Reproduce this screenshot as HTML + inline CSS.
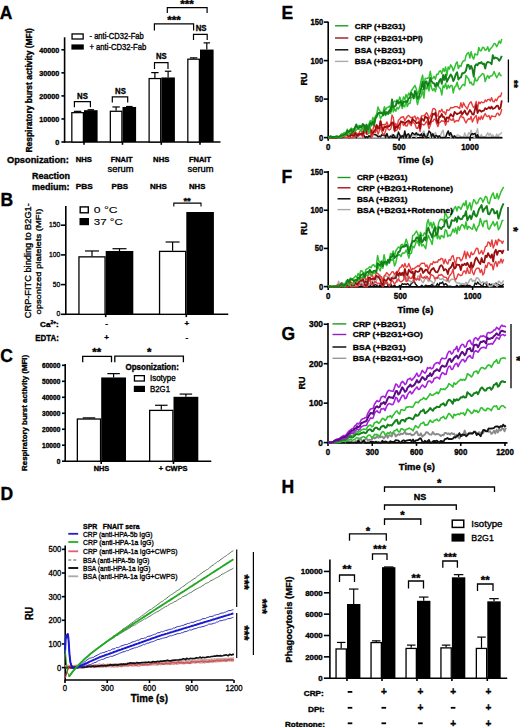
<!DOCTYPE html>
<html><head><meta charset="utf-8"><style>html,body{margin:0;padding:0;background:#fff;}svg{display:block;font-family:"Liberation Sans",sans-serif;}text{fill:#000;stroke:#000;stroke-linejoin:round}text.b{font-weight:700;stroke-width:.35px}text.r{font-weight:400;stroke-width:.34px}</style></head><body>
<svg width="520" height="727" viewBox="0 0 520 727">
<rect width="520" height="727" fill="#fff"/>
<text class="b" x="-0.30" y="18.70" font-size="17.5">A</text>
<line x1="64.60" y1="37.30" x2="64.60" y2="142.70" stroke="#000" stroke-width="1.6" />
<line x1="63.90" y1="142.00" x2="220.50" y2="142.00" stroke="#000" stroke-width="1.6" />
<line x1="61.40" y1="142.00" x2="64.60" y2="142.00" stroke="#000" stroke-width="1.6" />
<text class="b" x="55.20" y="145.26" font-size="8.0" textLength="4.00" lengthAdjust="spacingAndGlyphs">0</text>
<line x1="61.40" y1="118.95" x2="64.60" y2="118.95" stroke="#000" stroke-width="1.6" />
<text class="b" x="39.20" y="122.21" font-size="8.0" textLength="20.00" lengthAdjust="spacingAndGlyphs">10000</text>
<line x1="61.40" y1="95.90" x2="64.60" y2="95.90" stroke="#000" stroke-width="1.6" />
<text class="b" x="39.20" y="99.16" font-size="8.0" textLength="20.00" lengthAdjust="spacingAndGlyphs">20000</text>
<line x1="61.40" y1="72.85" x2="64.60" y2="72.85" stroke="#000" stroke-width="1.6" />
<text class="b" x="39.20" y="76.11" font-size="8.0" textLength="20.00" lengthAdjust="spacingAndGlyphs">30000</text>
<line x1="61.40" y1="49.80" x2="64.60" y2="49.80" stroke="#000" stroke-width="1.6" />
<text class="b" x="39.20" y="53.06" font-size="8.0" textLength="20.00" lengthAdjust="spacingAndGlyphs">40000</text>
<line x1="84.00" y1="142.00" x2="84.00" y2="144.80" stroke="#000" stroke-width="1.6" />
<line x1="122.50" y1="142.00" x2="122.50" y2="144.80" stroke="#000" stroke-width="1.6" />
<line x1="161.30" y1="142.00" x2="161.30" y2="144.80" stroke="#000" stroke-width="1.6" />
<line x1="200.00" y1="142.00" x2="200.00" y2="144.80" stroke="#000" stroke-width="1.6" />
<rect x="71.83" y="112.66" width="11.55" height="29.34" fill="#fff" stroke="#000" stroke-width="1.25"/>
<rect x="84.00" y="110.19" width="13.60" height="31.81" fill="#000"/>
<line x1="77.60" y1="111.34" x2="77.60" y2="112.03" stroke="#000" stroke-width="1.2" />
<line x1="73.90" y1="111.34" x2="81.30" y2="111.34" stroke="#000" stroke-width="1.2" />
<line x1="90.80" y1="109.73" x2="90.80" y2="110.19" stroke="#000" stroke-width="1.2" />
<line x1="87.55" y1="109.73" x2="94.05" y2="109.73" stroke="#000" stroke-width="1.2" />
<rect x="110.33" y="111.28" width="11.55" height="30.72" fill="#fff" stroke="#000" stroke-width="1.25"/>
<rect x="122.50" y="106.96" width="13.60" height="35.04" fill="#000"/>
<line x1="116.10" y1="106.96" x2="116.10" y2="110.65" stroke="#000" stroke-width="1.2" />
<line x1="112.40" y1="106.96" x2="119.80" y2="106.96" stroke="#000" stroke-width="1.2" />
<line x1="129.30" y1="106.50" x2="129.30" y2="106.96" stroke="#000" stroke-width="1.2" />
<line x1="126.05" y1="106.50" x2="132.55" y2="106.50" stroke="#000" stroke-width="1.2" />
<rect x="149.12" y="78.55" width="11.55" height="63.45" fill="#fff" stroke="#000" stroke-width="1.25"/>
<rect x="161.30" y="77.46" width="13.60" height="64.54" fill="#000"/>
<line x1="154.90" y1="72.62" x2="154.90" y2="77.92" stroke="#000" stroke-width="1.2" />
<line x1="151.20" y1="72.62" x2="158.60" y2="72.62" stroke="#000" stroke-width="1.2" />
<line x1="168.10" y1="71.24" x2="168.10" y2="77.46" stroke="#000" stroke-width="1.2" />
<line x1="164.85" y1="71.24" x2="171.35" y2="71.24" stroke="#000" stroke-width="1.2" />
<rect x="187.82" y="59.18" width="11.55" height="82.82" fill="#fff" stroke="#000" stroke-width="1.25"/>
<rect x="200.00" y="49.57" width="13.60" height="92.43" fill="#000"/>
<line x1="193.60" y1="57.87" x2="193.60" y2="58.56" stroke="#000" stroke-width="1.2" />
<line x1="189.90" y1="57.87" x2="197.30" y2="57.87" stroke="#000" stroke-width="1.2" />
<line x1="206.80" y1="42.88" x2="206.80" y2="49.57" stroke="#000" stroke-width="1.2" />
<line x1="203.55" y1="42.88" x2="210.05" y2="42.88" stroke="#000" stroke-width="1.2" />
<polyline points="74.40,107.30 74.40,101.60 90.40,101.60 90.40,107.30" fill="none" stroke="#000" stroke-width="1.2"/>
<text class="b" x="77.10" y="98.70" font-size="8.8" textLength="10.80" lengthAdjust="spacingAndGlyphs">NS</text>
<polyline points="112.30,102.50 112.30,96.80 127.70,96.80 127.70,102.50" fill="none" stroke="#000" stroke-width="1.2"/>
<text class="b" x="115.10" y="93.70" font-size="8.8" textLength="10.80" lengthAdjust="spacingAndGlyphs">NS</text>
<polyline points="154.50,69.00 154.50,62.60 168.00,62.60 168.00,69.00" fill="none" stroke="#000" stroke-width="1.2"/>
<text class="b" x="155.90" y="58.70" font-size="8.8" textLength="10.70" lengthAdjust="spacingAndGlyphs">NS</text>
<polyline points="193.50,39.90 193.50,34.40 207.20,34.40 207.20,39.90" fill="none" stroke="#000" stroke-width="1.2"/>
<text class="b" x="195.65" y="31.10" font-size="8.8" textLength="10.90" lengthAdjust="spacingAndGlyphs">NS</text>
<polyline points="154.40,30.40 154.40,23.80 193.60,23.80 193.60,30.40" fill="none" stroke="#000" stroke-width="1.2"/>
<text class="b" x="174.05" y="23.92" font-size="11.6" text-anchor="middle">***</text>
<polyline points="167.30,13.00 167.30,7.60 207.10,7.60 207.10,13.00" fill="none" stroke="#000" stroke-width="1.2"/>
<text class="b" x="187.00" y="7.82" font-size="11.6" text-anchor="middle">***</text>
<rect x="72.05" y="33.95" width="11.10" height="5.05" fill="#fff" stroke="#000" stroke-width="1.3"/>
<rect x="71.40" y="44.40" width="12.40" height="5.20" fill="#000"/>
<text class="r" x="89.50" y="39.10" font-size="8.4" textLength="54.30" lengthAdjust="spacingAndGlyphs">- anti-CD32-Fab</text>
<text class="r" x="89.50" y="50.00" font-size="8.4" textLength="56.80" lengthAdjust="spacingAndGlyphs">+ anti-CD32-Fab</text>
<text class="b" x="32.20" y="152.60" font-size="8.3" textLength="124.50" lengthAdjust="spacingAndGlyphs" transform="rotate(-90 32.20 152.60)">Respiratory burst activity (MFI)</text>
<text class="b" x="7.00" y="163.10" font-size="9.3" textLength="61.80" lengthAdjust="spacingAndGlyphs">Opsonization:</text>
<text class="b" x="75.70" y="162.20" font-size="7.4" textLength="16.20" lengthAdjust="spacingAndGlyphs">NHS</text>
<text class="b" x="110.70" y="162.20" font-size="7.4" textLength="21.80" lengthAdjust="spacingAndGlyphs">FNAIT</text>
<text class="r" x="107.50" y="171.60" font-size="8.6" textLength="26.00" lengthAdjust="spacingAndGlyphs">serum</text>
<text class="b" x="153.10" y="162.20" font-size="7.4" textLength="16.20" lengthAdjust="spacingAndGlyphs">NHS</text>
<text class="b" x="189.00" y="162.20" font-size="7.4" textLength="22.00" lengthAdjust="spacingAndGlyphs">FNAIT</text>
<text class="r" x="187.50" y="171.60" font-size="8.6" textLength="26.00" lengthAdjust="spacingAndGlyphs">serum</text>
<text class="b" x="32.00" y="178.80" font-size="9.3" textLength="38.00" lengthAdjust="spacingAndGlyphs">Reaction</text>
<text class="b" x="32.00" y="189.50" font-size="9.3" textLength="37.50" lengthAdjust="spacingAndGlyphs">medium:</text>
<text class="b" x="75.70" y="189.00" font-size="7.6" textLength="17.00" lengthAdjust="spacingAndGlyphs">PBS</text>
<text class="b" x="111.55" y="189.00" font-size="7.6" textLength="16.50" lengthAdjust="spacingAndGlyphs">PBS</text>
<text class="b" x="150.10" y="189.00" font-size="7.4" textLength="16.80" lengthAdjust="spacingAndGlyphs">NHS</text>
<text class="b" x="189.00" y="189.00" font-size="7.4" textLength="16.40" lengthAdjust="spacingAndGlyphs">NHS</text>
<text class="b" x="0.40" y="206.20" font-size="17.5">B</text>
<line x1="65.80" y1="206.00" x2="65.80" y2="315.00" stroke="#000" stroke-width="1.6" />
<line x1="65.10" y1="314.30" x2="228.30" y2="314.30" stroke="#000" stroke-width="1.6" />
<line x1="60.80" y1="314.30" x2="65.80" y2="314.30" stroke="#000" stroke-width="1.6" />
<text class="r" x="56.47" y="316.32" font-size="7.6" textLength="3.73" lengthAdjust="spacingAndGlyphs">0</text>
<line x1="60.80" y1="284.60" x2="65.80" y2="284.60" stroke="#000" stroke-width="1.6" />
<text class="r" x="52.74" y="286.62" font-size="7.6" textLength="7.46" lengthAdjust="spacingAndGlyphs">50</text>
<line x1="60.80" y1="254.90" x2="65.80" y2="254.90" stroke="#000" stroke-width="1.6" />
<text class="r" x="49.01" y="256.92" font-size="7.6" textLength="11.19" lengthAdjust="spacingAndGlyphs">100</text>
<line x1="60.80" y1="225.20" x2="65.80" y2="225.20" stroke="#000" stroke-width="1.6" />
<text class="r" x="49.01" y="227.22" font-size="7.6" textLength="11.19" lengthAdjust="spacingAndGlyphs">150</text>
<line x1="105.70" y1="314.30" x2="105.70" y2="317.10" stroke="#000" stroke-width="1.6" />
<line x1="186.30" y1="314.30" x2="186.30" y2="317.10" stroke="#000" stroke-width="1.6" />
<rect x="78.95" y="256.86" width="26.10" height="57.44" fill="#fff" stroke="#000" stroke-width="1.3"/>
<rect x="105.70" y="250.98" width="27.60" height="63.32" fill="#000"/>
<line x1="92.00" y1="250.98" x2="92.00" y2="256.21" stroke="#000" stroke-width="1.2" />
<line x1="85.00" y1="250.98" x2="99.00" y2="250.98" stroke="#000" stroke-width="1.2" />
<line x1="119.50" y1="248.72" x2="119.50" y2="250.98" stroke="#000" stroke-width="1.2" />
<line x1="112.50" y1="248.72" x2="126.50" y2="248.72" stroke="#000" stroke-width="1.2" />
<rect x="159.55" y="251.39" width="26.10" height="62.91" fill="#fff" stroke="#000" stroke-width="1.3"/>
<rect x="186.30" y="212.01" width="27.60" height="102.29" fill="#000"/>
<line x1="172.60" y1="242.01" x2="172.60" y2="250.74" stroke="#000" stroke-width="1.2" />
<line x1="165.60" y1="242.01" x2="179.60" y2="242.01" stroke="#000" stroke-width="1.2" />
<polyline points="173.80,206.60 173.80,203.10 201.00,203.10 201.00,206.60" fill="none" stroke="#000" stroke-width="1.1"/>
<text class="b" x="187.10" y="203.54" font-size="9.5" text-anchor="middle">**</text>
<rect x="80.20" y="206.90" width="8.10" height="5.90" fill="#fff" stroke="#000" stroke-width="1.4"/>
<rect x="79.50" y="218.00" width="9.50" height="7.20" fill="#000"/>
<text class="r" x="93.80" y="212.60" font-size="9.6" textLength="23.80" lengthAdjust="spacingAndGlyphs" style="stroke-width:0.12px">0 °C</text>
<text class="r" x="93.80" y="224.60" font-size="9.6" textLength="29.00" lengthAdjust="spacingAndGlyphs" style="stroke-width:0.12px">37 °C</text>
<text class="r" x="30.60" y="318.20" font-size="8.8" textLength="115.00" lengthAdjust="spacingAndGlyphs" transform="rotate(-90 30.60 318.20)">CRP-FITC binding to B2G1-</text>
<text class="r" x="40.60" y="314.60" font-size="8.0" textLength="106.00" lengthAdjust="spacingAndGlyphs" transform="rotate(-90 40.60 314.60)">opsonized platelets (MFI)</text>
<text class="b" x="40.1" y="326.8" font-size="7.4" textLength="18.7" lengthAdjust="spacingAndGlyphs">Ca<tspan font-size="4.6" dy="-2.8">2+</tspan><tspan dy="2.8">:</tspan></text>
<text class="b" x="35.30" y="341.00" font-size="8.6" textLength="23.50" lengthAdjust="spacingAndGlyphs">EDTA:</text>
<text class="b" x="106.70" y="326.20" font-size="8" text-anchor="middle">-</text>
<text class="b" x="106.70" y="339.90" font-size="8" text-anchor="middle">+</text>
<text class="b" x="186.90" y="326.20" font-size="8" text-anchor="middle">+</text>
<text class="b" x="186.90" y="340.30" font-size="8" text-anchor="middle">-</text>
<text class="b" x="0.20" y="361.90" font-size="17.5">C</text>
<line x1="65.20" y1="364.00" x2="65.20" y2="461.90" stroke="#000" stroke-width="1.6" />
<line x1="64.50" y1="461.20" x2="211.30" y2="461.20" stroke="#000" stroke-width="1.6" />
<line x1="62.00" y1="461.20" x2="65.20" y2="461.20" stroke="#000" stroke-width="1.6" />
<text class="b" x="56.66" y="463.55" font-size="6.8" textLength="3.64" lengthAdjust="spacingAndGlyphs">0</text>
<line x1="62.00" y1="445.22" x2="65.20" y2="445.22" stroke="#000" stroke-width="1.6" />
<text class="b" x="42.10" y="447.57" font-size="6.8" textLength="18.20" lengthAdjust="spacingAndGlyphs">10000</text>
<line x1="62.00" y1="429.24" x2="65.20" y2="429.24" stroke="#000" stroke-width="1.6" />
<text class="b" x="42.10" y="431.59" font-size="6.8" textLength="18.20" lengthAdjust="spacingAndGlyphs">20000</text>
<line x1="62.00" y1="413.26" x2="65.20" y2="413.26" stroke="#000" stroke-width="1.6" />
<text class="b" x="42.10" y="415.61" font-size="6.8" textLength="18.20" lengthAdjust="spacingAndGlyphs">30000</text>
<line x1="62.00" y1="397.28" x2="65.20" y2="397.28" stroke="#000" stroke-width="1.6" />
<text class="b" x="42.10" y="399.63" font-size="6.8" textLength="18.20" lengthAdjust="spacingAndGlyphs">40000</text>
<line x1="62.00" y1="381.30" x2="65.20" y2="381.30" stroke="#000" stroke-width="1.6" />
<text class="b" x="42.10" y="383.65" font-size="6.8" textLength="18.20" lengthAdjust="spacingAndGlyphs">50000</text>
<line x1="62.00" y1="365.32" x2="65.20" y2="365.32" stroke="#000" stroke-width="1.6" />
<text class="b" x="42.10" y="367.67" font-size="6.8" textLength="18.20" lengthAdjust="spacingAndGlyphs">60000</text>
<line x1="101.20" y1="461.20" x2="101.20" y2="464.00" stroke="#000" stroke-width="1.6" />
<line x1="173.50" y1="461.20" x2="173.50" y2="464.00" stroke="#000" stroke-width="1.6" />
<rect x="77.35" y="419.02" width="23.20" height="42.18" fill="#fff" stroke="#000" stroke-width="1.3"/>
<rect x="101.20" y="377.46" width="24.80" height="83.74" fill="#000"/>
<line x1="89.00" y1="417.89" x2="89.00" y2="418.37" stroke="#000" stroke-width="1.2" />
<line x1="82.75" y1="417.89" x2="95.25" y2="417.89" stroke="#000" stroke-width="1.2" />
<line x1="113.60" y1="373.63" x2="113.60" y2="377.46" stroke="#000" stroke-width="1.2" />
<line x1="107.35" y1="373.63" x2="119.85" y2="373.63" stroke="#000" stroke-width="1.2" />
<rect x="149.65" y="410.39" width="23.20" height="50.81" fill="#fff" stroke="#000" stroke-width="1.3"/>
<rect x="173.50" y="396.80" width="24.80" height="64.40" fill="#000"/>
<line x1="161.30" y1="405.27" x2="161.30" y2="409.74" stroke="#000" stroke-width="1.2" />
<line x1="155.05" y1="405.27" x2="167.55" y2="405.27" stroke="#000" stroke-width="1.2" />
<line x1="185.90" y1="394.08" x2="185.90" y2="396.80" stroke="#000" stroke-width="1.2" />
<line x1="179.65" y1="394.08" x2="192.15" y2="394.08" stroke="#000" stroke-width="1.2" />
<polyline points="82.70,362.30 82.70,356.40 111.50,356.40 111.50,362.30" fill="none" stroke="#000" stroke-width="1.3"/>
<text class="b" x="96.70" y="356.21" font-size="11.4" text-anchor="middle">**</text>
<polyline points="114.80,362.30 114.80,356.20 183.40,356.20 183.40,362.30" fill="none" stroke="#000" stroke-width="1.3"/>
<text class="b" x="149.10" y="356.01" font-size="11.4" text-anchor="middle">*</text>
<text class="b" x="125.50" y="370.00" font-size="8.6" textLength="53.30" lengthAdjust="spacingAndGlyphs">Opsonization:</text>
<rect x="134.45" y="375.65" width="9.90" height="5.35" fill="#fff" stroke="#000" stroke-width="1.3"/>
<rect x="133.80" y="385.80" width="11.20" height="6.20" fill="#000"/>
<text class="r" x="150.00" y="381.20" font-size="8.2" textLength="25.60" lengthAdjust="spacingAndGlyphs">Isotype</text>
<text class="r" x="150.00" y="392.00" font-size="8.2" textLength="20.00" lengthAdjust="spacingAndGlyphs">B2G1</text>
<text class="b" x="27.20" y="470.90" font-size="8.0" textLength="116.10" lengthAdjust="spacingAndGlyphs" transform="rotate(-90 27.20 470.90)">Respiratory burst activity (MFI)</text>
<text class="b" x="93.75" y="470.60" font-size="6.8" textLength="15.50" lengthAdjust="spacingAndGlyphs">NHS</text>
<text class="b" x="158.80" y="471.30" font-size="6.8" textLength="28.80" lengthAdjust="spacingAndGlyphs">+ CWPS</text>
<text class="b" x="0.40" y="500.30" font-size="17.5">D</text>
<line x1="65.20" y1="545.50" x2="65.20" y2="680.40" stroke="#000" stroke-width="1.6" />
<line x1="64.50" y1="680.00" x2="233.60" y2="680.00" stroke="#000" stroke-width="1.6" />
<line x1="62.00" y1="667.60" x2="65.20" y2="667.60" stroke="#000" stroke-width="1.6" />
<text class="r" x="57.03" y="670.50" font-size="8.4" textLength="4.27" lengthAdjust="spacingAndGlyphs">0</text>
<line x1="62.00" y1="643.95" x2="65.20" y2="643.95" stroke="#000" stroke-width="1.6" />
<text class="r" x="48.49" y="646.85" font-size="8.4" textLength="12.81" lengthAdjust="spacingAndGlyphs">100</text>
<line x1="62.00" y1="620.30" x2="65.20" y2="620.30" stroke="#000" stroke-width="1.6" />
<text class="r" x="48.49" y="623.20" font-size="8.4" textLength="12.81" lengthAdjust="spacingAndGlyphs">200</text>
<line x1="62.00" y1="596.65" x2="65.20" y2="596.65" stroke="#000" stroke-width="1.6" />
<text class="r" x="48.49" y="599.55" font-size="8.4" textLength="12.81" lengthAdjust="spacingAndGlyphs">300</text>
<line x1="62.00" y1="573.00" x2="65.20" y2="573.00" stroke="#000" stroke-width="1.6" />
<text class="r" x="48.49" y="575.90" font-size="8.4" textLength="12.81" lengthAdjust="spacingAndGlyphs">400</text>
<line x1="62.00" y1="549.35" x2="65.20" y2="549.35" stroke="#000" stroke-width="1.6" />
<text class="r" x="48.49" y="552.25" font-size="8.4" textLength="12.81" lengthAdjust="spacingAndGlyphs">500</text>
<line x1="65.00" y1="680.00" x2="65.00" y2="683.00" stroke="#000" stroke-width="1.6" />
<text class="r" x="62.85" y="690.80" font-size="8.6" textLength="4.30" lengthAdjust="spacingAndGlyphs">0</text>
<line x1="107.25" y1="680.00" x2="107.25" y2="683.00" stroke="#000" stroke-width="1.6" />
<text class="r" x="100.80" y="690.80" font-size="8.6" textLength="12.90" lengthAdjust="spacingAndGlyphs">300</text>
<line x1="149.50" y1="680.00" x2="149.50" y2="683.00" stroke="#000" stroke-width="1.6" />
<text class="r" x="143.05" y="690.80" font-size="8.6" textLength="12.90" lengthAdjust="spacingAndGlyphs">600</text>
<line x1="191.75" y1="680.00" x2="191.75" y2="683.00" stroke="#000" stroke-width="1.6" />
<text class="r" x="185.30" y="690.80" font-size="8.6" textLength="12.90" lengthAdjust="spacingAndGlyphs">900</text>
<line x1="234.00" y1="680.00" x2="234.00" y2="683.00" stroke="#000" stroke-width="1.6" />
<text class="r" x="225.40" y="690.80" font-size="8.6" textLength="17.20" lengthAdjust="spacingAndGlyphs">1200</text>
<text class="b" x="130.80" y="701.80" font-size="10.2" textLength="37.20" lengthAdjust="spacingAndGlyphs">Time (s)</text>
<text class="b" x="33.50" y="620.10" font-size="10.0" textLength="13.30" lengthAdjust="spacingAndGlyphs" transform="rotate(-90 33.50 620.10)">RU</text>
<polyline points="65.0,666.9 66.1,666.9 67.3,666.9 68.4,666.9 69.5,666.9 70.6,666.9 71.8,666.9 72.9,666.9 74.0,666.9 75.1,666.8 76.3,666.7 77.4,666.7 78.5,666.6 79.6,666.5 80.8,666.5 81.9,666.4 83.0,666.4 84.2,666.3 85.3,666.2 86.4,666.2 87.5,666.1 88.7,666.0 89.8,666.0 90.9,665.9 92.0,665.8 93.2,665.8 94.3,665.7 95.4,665.7 96.5,665.6 97.7,665.5 98.8,665.5 99.9,665.4 101.1,665.3 102.2,665.3 103.3,665.2 104.4,665.2 105.6,665.1 106.7,665.0 107.8,665.0 108.9,664.9 110.1,664.8 111.2,664.8 112.3,664.7 113.4,664.7 114.6,664.6 115.7,664.5 116.8,664.5 118.0,664.4 119.1,664.3 120.2,664.3 121.3,664.2 122.5,664.1 123.6,664.1 124.7,664.0 125.8,664.0 127.0,663.9 128.1,663.8 129.2,663.8 130.3,663.7 131.5,663.6 132.6,663.6 133.7,663.5 134.9,663.5 136.0,663.4 137.1,663.3 138.2,663.3 139.4,663.2 140.5,663.1 141.6,663.1 142.7,663.0 143.9,662.9 145.0,662.9 146.1,662.8 147.2,662.8 148.4,662.7 149.5,662.6 150.6,662.6 151.8,662.5 152.9,662.4 154.0,662.4 155.1,662.3 156.3,662.3 157.4,662.2 158.5,662.1 159.6,662.1 160.8,662.0 161.9,661.9 163.0,661.9 164.1,661.8 165.3,661.8 166.4,661.7 167.5,661.6 168.7,661.6 169.8,661.5 170.9,661.4 172.0,661.4 173.2,661.3 174.3,661.2 175.4,661.2 176.5,661.1 177.7,661.1 178.8,661.0 179.9,660.9 181.0,660.9 182.2,660.8 183.3,660.7 184.4,660.7 185.6,660.6 186.7,660.6 187.8,660.5 188.9,660.4 190.1,660.4 191.2,660.3 192.3,660.2 193.4,660.2 194.6,660.1 195.7,660.0 196.8,660.0 197.9,659.9 199.1,659.9 200.2,659.8 201.3,659.7 202.5,659.7 203.6,659.6 204.7,659.5 205.8,659.5 207.0,659.4 208.1,659.4 209.2,659.3 210.3,659.2 211.5,659.2 212.6,659.1 213.7,659.0 214.8,659.0 216.0,658.9 217.1,658.8 218.2,658.8 219.4,658.7 220.5,658.7 221.6,658.6 222.7,658.5 223.9,658.5 225.0,658.4 226.1,658.3 227.2,658.3 228.4,658.2 229.5,658.2 230.6,658.1 231.7,658.0 232.9,658.0 234.0,657.9" fill="none" stroke="#a0a0a0" stroke-width="1.0" stroke-linejoin="round"/>
<polyline points="65.0,668.3 66.1,668.3 67.3,668.3 68.4,668.3 69.5,668.3 70.6,668.3 71.8,668.3 72.9,668.3 74.0,668.3 75.1,668.2 76.3,668.2 77.4,668.1 78.5,668.0 79.6,668.0 80.8,667.9 81.9,667.8 83.0,667.8 84.2,667.7 85.3,667.6 86.4,667.6 87.5,667.5 88.7,667.5 89.8,667.4 90.9,667.3 92.0,667.3 93.2,667.2 94.3,667.1 95.4,667.1 96.5,667.0 97.7,667.0 98.8,666.9 99.9,666.8 101.1,666.8 102.2,666.7 103.3,666.6 104.4,666.6 105.6,666.5 106.7,666.4 107.8,666.4 108.9,666.3 110.1,666.3 111.2,666.2 112.3,666.1 113.4,666.1 114.6,666.0 115.7,665.9 116.8,665.9 118.0,665.8 119.1,665.8 120.2,665.7 121.3,665.6 122.5,665.6 123.6,665.5 124.7,665.4 125.8,665.4 127.0,665.3 128.1,665.3 129.2,665.2 130.3,665.1 131.5,665.1 132.6,665.0 133.7,664.9 134.9,664.9 136.0,664.8 137.1,664.7 138.2,664.7 139.4,664.6 140.5,664.6 141.6,664.5 142.7,664.4 143.9,664.4 145.0,664.3 146.1,664.2 147.2,664.2 148.4,664.1 149.5,664.1 150.6,664.0 151.8,663.9 152.9,663.9 154.0,663.8 155.1,663.7 156.3,663.7 157.4,663.6 158.5,663.5 159.6,663.5 160.8,663.4 161.9,663.4 163.0,663.3 164.1,663.2 165.3,663.2 166.4,663.1 167.5,663.0 168.7,663.0 169.8,662.9 170.9,662.9 172.0,662.8 173.2,662.7 174.3,662.7 175.4,662.6 176.5,662.5 177.7,662.5 178.8,662.4 179.9,662.3 181.0,662.3 182.2,662.2 183.3,662.2 184.4,662.1 185.6,662.0 186.7,662.0 187.8,661.9 188.9,661.8 190.1,661.8 191.2,661.7 192.3,661.7 193.4,661.6 194.6,661.5 195.7,661.5 196.8,661.4 197.9,661.3 199.1,661.3 200.2,661.2 201.3,661.2 202.5,661.1 203.6,661.0 204.7,661.0 205.8,660.9 207.0,660.8 208.1,660.8 209.2,660.7 210.3,660.6 211.5,660.6 212.6,660.5 213.7,660.5 214.8,660.4 216.0,660.3 217.1,660.3 218.2,660.2 219.4,660.1 220.5,660.1 221.6,660.0 222.7,660.0 223.9,659.9 225.0,659.8 226.1,659.8 227.2,659.7 228.4,659.6 229.5,659.6 230.6,659.5 231.7,659.4 232.9,659.4 234.0,659.3" fill="none" stroke="#a0a0a0" stroke-width="1.0" stroke-linejoin="round"/>
<polyline points="65.0,666.0 66.1,665.6 67.3,665.6 68.4,665.0 69.5,665.7 70.6,665.5 71.8,665.6 72.9,665.6 74.0,665.7 75.1,665.4 76.3,665.1 77.4,665.2 78.5,665.6 79.6,665.6 80.8,665.2 81.9,665.4 83.0,665.3 84.2,665.6 85.3,664.5 86.4,664.8 87.5,665.3 88.7,664.7 89.8,664.5 90.9,665.5 92.0,665.0 93.2,664.9 94.3,664.6 95.4,664.7 96.5,664.7 97.7,664.7 98.8,664.1 99.9,663.9 101.1,664.7 102.2,664.7 103.3,663.7 104.4,664.7 105.6,664.5 106.7,664.3 107.8,664.1 108.9,664.0 110.1,664.1 111.2,664.4 112.3,664.0 113.4,664.0 114.6,663.5 115.7,664.0 116.8,664.4 118.0,664.2 119.1,663.5 120.2,664.0 121.3,664.4 122.5,663.9 123.6,663.7 124.7,663.3 125.8,663.9 127.0,663.4 128.1,663.3 129.2,663.7 130.3,663.5 131.5,662.9 132.6,662.9 133.7,663.1 134.9,663.2 136.0,662.9 137.1,663.2 138.2,663.1 139.4,663.3 140.5,663.0 141.6,663.0 142.7,662.1 143.9,662.9 145.0,662.5 146.1,662.4 147.2,662.8 148.4,662.3 149.5,663.3 150.6,662.6 151.8,662.3 152.9,663.2 154.0,662.8 155.1,662.1 156.3,662.4 157.4,662.6 158.5,662.4 159.6,662.4 160.8,662.0 161.9,662.0 163.0,662.1 164.1,662.2 165.3,662.0 166.4,661.5 167.5,661.8 168.7,661.6 169.8,661.8 170.9,662.1 172.0,661.9 173.2,661.5 174.3,661.6 175.4,661.8 176.5,662.0 177.7,661.4 178.8,661.5 179.9,661.4 181.0,661.4 182.2,661.1 183.3,661.1 184.4,660.8 185.6,660.8 186.7,660.6 187.8,660.7 188.9,660.9 190.1,660.8 191.2,660.6 192.3,660.7 193.4,660.4 194.6,660.2 195.7,660.7 196.8,660.9 197.9,660.0 199.1,660.3 200.2,660.0 201.3,660.5 202.5,659.6 203.6,659.8 204.7,660.0 205.8,660.0 207.0,659.8 208.1,659.8 209.2,659.8 210.3,660.0 211.5,659.2 212.6,659.6 213.7,659.5 214.8,659.4 216.0,660.0 217.1,659.1 218.2,659.3 219.4,659.3 220.5,659.1 221.6,659.3 222.7,658.8 223.9,659.1 225.0,659.1 226.1,659.1 227.2,658.7 228.4,658.5 229.5,658.8 230.6,659.0 231.7,658.2 232.9,658.7 234.0,658.0" fill="none" stroke="#e0a0a0" stroke-width="1.2" stroke-linejoin="round"/>
<polyline points="65.0,668.1 66.1,668.3 67.3,668.3 68.4,667.9 69.5,667.8 70.6,668.1 71.8,667.8 72.9,667.5 74.0,668.1 75.1,668.3 76.3,668.3 77.4,668.3 78.5,668.1 79.6,668.1 80.8,668.2 81.9,667.6 83.0,668.5 84.2,668.1 85.3,667.1 86.4,667.3 87.5,667.4 88.7,667.4 89.8,667.0 90.9,667.3 92.0,667.4 93.2,667.7 94.3,667.4 95.4,667.5 96.5,667.5 97.7,667.4 98.8,667.2 99.9,667.3 101.1,666.9 102.2,667.5 103.3,667.1 104.4,666.5 105.6,667.0 106.7,666.6 107.8,666.6 108.9,666.5 110.1,666.6 111.2,667.2 112.3,666.8 113.4,666.8 114.6,667.1 115.7,666.7 116.8,666.9 118.0,667.0 119.1,666.4 120.2,666.5 121.3,666.6 122.5,666.6 123.6,666.5 124.7,666.4 125.8,666.3 127.0,666.2 128.1,666.3 129.2,666.0 130.3,665.9 131.5,665.9 132.6,666.1 133.7,666.1 134.9,665.7 136.0,665.9 137.1,665.8 138.2,666.4 139.4,666.4 140.5,665.5 141.6,665.5 142.7,665.1 143.9,665.3 145.0,665.4 146.1,665.4 147.2,665.7 148.4,665.0 149.5,665.4 150.6,665.0 151.8,665.1 152.9,665.0 154.0,664.8 155.1,665.1 156.3,665.1 157.4,665.1 158.5,665.0 159.6,664.3 160.8,664.9 161.9,664.4 163.0,664.4 164.1,664.4 165.3,664.3 166.4,664.8 167.5,664.4 168.7,664.0 169.8,664.6 170.9,664.3 172.0,664.5 173.2,664.2 174.3,664.5 175.4,663.7 176.5,664.2 177.7,664.5 178.8,663.5 179.9,663.7 181.0,663.7 182.2,663.7 183.3,663.8 184.4,663.7 185.6,663.4 186.7,663.3 187.8,663.2 188.9,663.4 190.1,663.5 191.2,663.4 192.3,662.9 193.4,662.8 194.6,663.2 195.7,663.2 196.8,662.7 197.9,662.7 199.1,662.7 200.2,663.2 201.3,662.9 202.5,662.8 203.6,662.6 204.7,663.1 205.8,662.2 207.0,662.4 208.1,662.3 209.2,662.7 210.3,662.3 211.5,661.8 212.6,662.6 213.7,662.0 214.8,661.8 216.0,662.2 217.1,661.7 218.2,661.9 219.4,661.4 220.5,661.6 221.6,661.6 222.7,661.0 223.9,661.3 225.0,661.1 226.1,661.7 227.2,661.5 228.4,661.0 229.5,661.0 230.6,661.2 231.7,660.9 232.9,661.3 234.0,660.9" fill="none" stroke="#e0a0a0" stroke-width="1.2" stroke-linejoin="round"/>
<polyline points="65.0,667.3 66.1,666.8 67.3,667.1 68.4,667.1 69.5,666.9 70.6,666.2 71.8,667.2 72.9,667.1 74.0,666.5 75.1,667.0 76.3,666.2 77.4,666.7 78.5,666.7 79.6,666.5 80.8,666.0 81.9,666.4 83.0,666.4 84.2,666.4 85.3,667.0 86.4,666.8 87.5,665.9 88.7,666.1 89.8,666.1 90.9,666.1 92.0,666.4 93.2,666.1 94.3,666.5 95.4,666.0 96.5,666.3 97.7,666.1 98.8,665.9 99.9,666.1 101.1,665.7 102.2,665.7 103.3,665.7 104.4,665.3 105.6,666.3 106.7,666.3 107.8,665.5 108.9,665.3 110.1,664.9 111.2,665.3 112.3,665.3 113.4,665.8 114.6,665.2 115.7,665.2 116.8,665.8 118.0,665.7 119.1,665.4 120.2,665.2 121.3,666.3 122.5,665.2 123.6,665.1 124.7,665.2 125.8,665.0 127.0,664.8 128.1,665.3 129.2,664.8 130.3,664.9 131.5,665.1 132.6,664.7 133.7,664.2 134.9,665.2 136.0,665.2 137.1,665.2 138.2,663.8 139.4,664.6 140.5,664.5 141.6,664.7 142.7,664.7 143.9,665.0 145.0,664.2 146.1,664.1 147.2,664.8 148.4,664.5 149.5,664.3 150.6,664.0 151.8,663.9 152.9,663.5 154.0,663.4 155.1,663.4 156.3,663.3 157.4,664.1 158.5,663.9 159.6,663.2 160.8,663.5 161.9,663.5 163.0,664.2 164.1,664.1 165.3,663.1 166.4,663.2 167.5,663.4 168.7,663.4 169.8,663.8 170.9,663.0 172.0,662.7 173.2,662.5 174.3,663.0 175.4,663.0 176.5,663.3 177.7,662.4 178.8,662.2 179.9,663.0 181.0,662.6 182.2,662.6 183.3,662.8 184.4,663.4 185.6,662.6 186.7,662.2 187.8,662.8 188.9,662.6 190.1,663.4 191.2,661.7 192.3,661.9 193.4,662.0 194.6,662.0 195.7,662.1 196.8,661.9 197.9,661.9 199.1,661.8 200.2,661.7 201.3,661.5 202.5,661.0 203.6,662.0 204.7,661.3 205.8,661.6 207.0,661.7 208.1,662.0 209.2,660.9 210.3,661.4 211.5,661.3 212.6,660.8 213.7,661.3 214.8,660.8 216.0,660.8 217.1,660.4 218.2,660.3 219.4,660.9 220.5,660.2 221.6,660.5 222.7,660.4 223.9,660.4 225.0,660.0 226.1,660.7 227.2,660.1 228.4,659.7 229.5,660.1 230.6,659.3 231.7,660.2 232.9,659.8 234.0,660.0" fill="none" stroke="#c85a5a" stroke-width="1.7" stroke-linejoin="round"/>
<polyline points="65.0,667.8 66.1,668.0 67.3,667.7 68.4,667.5 69.5,667.3 70.6,667.6 71.8,667.8 72.9,667.8 74.0,667.3 75.1,667.0 76.3,667.3 77.4,667.7 78.5,667.5 79.6,666.7 80.8,667.0 81.9,667.5 83.0,667.0 84.2,667.2 85.3,667.0 86.4,666.9 87.5,666.8 88.7,666.4 89.8,666.5 90.9,666.6 92.0,666.2 93.2,666.0 94.3,666.7 95.4,666.2 96.5,666.3 97.7,666.0 98.8,666.2 99.9,665.8 101.1,665.7 102.2,665.7 103.3,665.9 104.4,665.6 105.6,665.7 106.7,665.7 107.8,665.2 108.9,665.5 110.1,664.7 111.2,664.8 112.3,665.5 113.4,664.8 114.6,665.1 115.7,664.7 116.8,664.6 118.0,665.1 119.1,664.5 120.2,664.4 121.3,664.0 122.5,664.6 123.6,663.9 124.7,664.4 125.8,664.0 127.0,664.1 128.1,663.3 129.2,663.5 130.3,662.8 131.5,663.3 132.6,663.1 133.7,663.0 134.9,663.4 136.0,663.1 137.1,662.6 138.2,663.1 139.4,662.8 140.5,662.8 141.6,662.5 142.7,662.7 143.9,662.5 145.0,662.3 146.1,662.3 147.2,662.5 148.4,661.9 149.5,662.4 150.6,662.3 151.8,662.3 152.9,661.5 154.0,661.8 155.1,661.9 156.3,661.9 157.4,661.3 158.5,661.6 159.6,661.6 160.8,661.0 161.9,661.4 163.0,661.1 164.1,660.9 165.3,660.9 166.4,660.7 167.5,660.2 168.7,660.7 169.8,660.8 170.9,660.9 172.0,660.3 173.2,660.3 174.3,660.0 175.4,660.1 176.5,660.0 177.7,660.0 178.8,659.9 179.9,659.5 181.0,659.6 182.2,659.3 183.3,658.7 184.4,659.0 185.6,659.6 186.7,658.4 187.8,658.8 188.9,659.0 190.1,658.4 191.2,658.5 192.3,658.6 193.4,658.5 194.6,658.5 195.7,658.1 196.8,657.7 197.9,658.0 199.1,657.7 200.2,657.1 201.3,658.0 202.5,657.4 203.6,657.5 204.7,657.6 205.8,657.5 207.0,657.1 208.1,656.9 209.2,657.0 210.3,656.8 211.5,656.5 212.6,656.5 213.7,656.2 214.8,656.2 216.0,656.1 217.1,655.6 218.2,655.9 219.4,655.9 220.5,655.6 221.6,656.0 222.7,655.7 223.9,655.3 225.0,655.2 226.1,654.8 227.2,655.2 228.4,655.6 229.5,654.4 230.6,654.6 231.7,655.1 232.9,654.3 234.0,654.6" fill="none" stroke="#111" stroke-width="1.7" stroke-linejoin="round"/>
<polyline points="65.0,678.0 65.8,675.9 66.7,672.3 67.8,669.5 68.7,667.1 69.8,666.7 71.8,666.9" fill="none" stroke="#b03030" stroke-width="1.4" stroke-linejoin="round"/>
<polyline points="65.0,653.4 65.6,639.7 66.1,635.7 66.7,637.3 67.3,634.5 67.8,634.0 68.4,638.0 68.9,645.1 69.5,654.6 70.4,662.4 71.5,665.7 72.9,667.4 74.3,668.3 75.7,668.1 76.8,667.4 78.0,666.7 79.1,665.8 80.2,664.9 81.3,664.2 82.5,663.1 83.6,662.1 84.7,662.0 85.8,660.7 87.0,660.0 88.1,659.3 89.2,658.3 90.3,658.1 91.5,657.8 92.6,657.3 93.7,657.3 94.9,656.1 96.0,655.9 97.1,655.2 98.2,654.7 99.4,654.0 100.5,653.3 101.6,653.1 102.7,652.6 103.9,652.6 105.0,652.0 106.1,651.5 107.2,651.6 108.4,650.4 109.5,650.6 110.6,650.3 111.8,649.3 112.9,648.8 114.0,649.0 115.1,648.6 116.3,647.4 117.4,647.6 118.5,647.6 119.6,646.9 120.8,646.0 121.9,645.9 123.0,645.4 124.2,644.9 125.3,644.6 126.4,644.5 127.5,644.3 128.7,643.5 129.8,643.4 130.9,642.8 132.0,642.0 133.2,641.8 134.3,641.5 135.4,641.1 136.5,640.6 137.7,640.1 138.8,640.2 139.9,639.5 141.1,638.7 142.2,638.5 143.3,638.5 144.4,638.0 145.6,637.9 146.7,637.2 147.8,636.3 148.9,636.3 150.1,636.0 151.2,635.6 152.3,635.1 153.4,634.7 154.6,634.3 155.7,634.0 156.8,633.3 157.9,632.7 159.1,632.7 160.2,632.3 161.3,631.6 162.5,631.8 163.6,631.3 164.7,630.9 165.8,630.4 167.0,630.2 168.1,630.0 169.2,629.4 170.3,629.3 171.5,629.1 172.6,628.8 173.7,627.9 174.8,628.1 176.0,627.2 177.1,626.8 178.2,626.5 179.4,626.3 180.5,626.1 181.6,625.6 182.7,625.4 183.9,625.2 185.0,624.3 186.1,624.4 187.2,623.5 188.4,623.4 189.5,623.3 190.6,622.7 191.8,622.2 192.9,622.4 194.0,622.0 195.1,621.6 196.3,621.0 197.4,620.6 198.5,620.4 199.6,620.2 200.8,619.8 201.9,619.1 203.0,618.7 204.1,618.6 205.3,618.6 206.4,617.8 207.5,617.5 208.7,617.2 209.8,616.5 210.9,616.4 212.0,616.4 213.2,616.1 214.3,615.2 215.4,615.1 216.5,614.6 217.7,614.5 218.8,614.3 219.9,613.7 221.0,613.1 222.2,613.0 223.3,613.0 224.4,612.4 225.6,612.1 226.7,611.6 227.8,611.1 228.9,610.5 230.1,610.6 231.2,610.4 232.3,609.9 233.4,609.6" fill="none" stroke="#3030b8" stroke-width="1.0" stroke-linejoin="round"/>
<polyline points="65.0,653.4 65.6,639.7 66.1,635.7 66.7,637.3 67.3,634.5 67.8,634.0 68.4,638.0 68.9,645.1 69.5,654.6 70.4,662.4 71.5,665.7 72.9,667.4 74.3,668.3 75.7,668.1 76.8,667.9 78.0,667.6 79.1,667.4 80.2,667.4 81.3,666.8 82.5,666.8 83.6,666.7 84.7,666.2 85.8,666.2 87.0,665.5 88.1,665.4 89.2,665.0 90.3,664.7 91.5,664.1 92.6,663.3 93.7,663.1 94.9,662.3 96.0,662.4 97.1,661.4 98.2,660.8 99.4,660.4 100.5,660.0 101.6,659.4 102.7,659.4 103.9,659.0 105.0,658.4 106.1,657.7 107.2,657.5 108.4,657.3 109.5,656.8 110.6,656.3 111.8,656.3 112.9,656.2 114.0,655.5 115.1,655.2 116.3,654.6 117.4,654.3 118.5,653.8 119.6,653.2 120.8,652.8 121.9,652.5 123.0,651.7 124.2,651.8 125.3,651.4 126.4,650.6 127.5,650.7 128.7,650.4 129.8,649.4 130.9,649.2 132.0,648.8 133.2,648.4 134.3,647.9 135.4,647.8 136.5,647.3 137.7,647.2 138.8,646.5 139.9,646.1 141.1,645.8 142.2,645.2 143.3,644.3 144.4,644.8 145.6,644.0 146.7,643.6 147.8,643.1 148.9,643.1 150.1,642.3 151.2,642.0 152.3,641.8 153.4,641.5 154.6,640.9 155.7,640.4 156.8,640.0 157.9,639.3 159.1,639.5 160.2,638.9 161.3,638.8 162.5,638.2 163.6,638.0 164.7,637.8 165.8,637.6 167.0,637.2 168.1,636.6 169.2,636.0 170.3,635.8 171.5,635.9 172.6,635.4 173.7,635.0 174.8,634.7 176.0,634.3 177.1,633.8 178.2,633.6 179.4,633.5 180.5,633.4 181.6,632.7 182.7,632.7 183.9,632.0 185.0,631.6 186.1,631.6 187.2,631.0 188.4,630.7 189.5,629.9 190.6,629.9 191.8,630.0 192.9,629.2 194.0,628.9 195.1,628.7 196.3,628.4 197.4,627.8 198.5,627.5 199.6,627.2 200.8,627.2 201.9,626.7 203.0,626.6 204.1,626.3 205.3,625.7 206.4,625.5 207.5,625.0 208.7,624.1 209.8,624.1 210.9,624.1 212.0,624.0 213.2,623.4 214.3,623.2 215.4,623.0 216.5,622.1 217.7,622.0 218.8,621.5 219.9,620.6 221.0,620.8 222.2,620.5 223.3,620.1 224.4,619.9 225.6,619.7 226.7,619.3 227.8,618.6 228.9,618.6 230.1,618.5 231.2,618.1 232.3,617.7 233.4,617.2" fill="none" stroke="#3030b8" stroke-width="1.0" stroke-linejoin="round"/>
<polyline points="65.0,653.4 65.6,639.7 66.1,635.7 66.7,637.3 67.3,634.5 67.8,634.0 68.4,638.0 68.9,645.1 69.5,654.6 70.4,662.4 71.5,665.7 72.9,667.4 74.3,668.3 75.7,668.1 76.8,667.6 78.0,667.1 79.1,666.5 80.2,666.0 81.3,665.5 82.5,665.0 83.6,664.5 84.7,664.0 85.8,663.5 87.0,663.0 88.1,662.5 89.2,661.9 90.3,661.4 91.5,660.9 92.6,660.4 93.7,659.9 94.9,659.4 96.0,658.9 97.1,658.4 98.2,657.9 99.4,657.3 100.5,656.9 101.6,656.5 102.7,656.1 103.9,655.7 105.0,655.3 106.1,654.9 107.2,654.5 108.4,654.1 109.5,653.7 110.6,653.3 111.8,652.9 112.9,652.5 114.0,652.0 115.1,651.6 116.3,651.2 117.4,650.8 118.5,650.4 119.6,650.0 120.8,649.6 121.9,649.2 123.0,648.8 124.2,648.4 125.3,648.0 126.4,647.6 127.5,647.2 128.7,646.8 129.8,646.4 130.9,646.0 132.0,645.6 133.2,645.2 134.3,644.8 135.4,644.4 136.5,644.0 137.7,643.6 138.8,643.2 139.9,642.8 141.1,642.4 142.2,642.0 143.3,641.6 144.4,641.2 145.6,640.8 146.7,640.4 147.8,640.0 148.9,639.6 150.1,639.2 151.2,638.8 152.3,638.4 153.4,638.0 154.6,637.6 155.7,637.2 156.8,636.8 157.9,636.4 159.1,636.0 160.2,635.6 161.3,635.3 162.5,634.9 163.6,634.6 164.7,634.3 165.8,633.9 167.0,633.6 168.1,633.2 169.2,632.9 170.3,632.5 171.5,632.2 172.6,631.9 173.7,631.5 174.8,631.2 176.0,630.8 177.1,630.5 178.2,630.2 179.4,629.8 180.5,629.5 181.6,629.1 182.7,628.8 183.9,628.4 185.0,628.1 186.1,627.8 187.2,627.4 188.4,627.1 189.5,626.7 190.6,626.4 191.8,626.0 192.9,625.7 194.0,625.4 195.1,625.0 196.3,624.7 197.4,624.3 198.5,624.0 199.6,623.6 200.8,623.3 201.9,623.0 203.0,622.6 204.1,622.3 205.3,621.9 206.4,621.6 207.5,621.3 208.7,620.9 209.8,620.6 210.9,620.2 212.0,619.9 213.2,619.5 214.3,619.2 215.4,618.9 216.5,618.5 217.7,618.2 218.8,617.8 219.9,617.5 221.0,617.1 222.2,616.8 223.3,616.5 224.4,616.1 225.6,615.8 226.7,615.4 227.8,615.1 228.9,614.7 230.1,614.4 231.2,614.1 232.3,613.7 233.4,613.4" fill="none" stroke="#1a1ad0" stroke-width="2.0" stroke-linejoin="round"/>
<polyline points="68.9,676.5 70.1,675.0 71.2,673.3 72.3,672.2 73.5,670.6 74.6,669.3 75.7,667.9 76.8,667.2 78.0,665.4 79.1,664.8 80.2,663.5 81.3,662.0 82.5,661.2 83.6,659.6 84.7,658.9 85.8,658.2 87.0,656.9 88.1,656.1 89.2,654.7 90.3,653.7 91.5,653.0 92.6,652.3 93.7,651.3 94.9,650.2 96.0,649.8 97.1,648.9 98.2,647.7 99.4,646.9 100.5,646.2 101.6,645.4 102.7,644.8 103.9,643.3 105.0,642.7 106.1,642.1 107.2,641.2 108.4,640.3 109.5,638.9 110.6,638.3 111.8,637.9 112.9,636.4 114.0,635.6 115.1,635.3 116.3,634.8 117.4,633.2 118.5,632.8 119.6,631.8 120.8,631.1 121.9,629.9 123.0,629.0 124.2,628.4 125.3,627.7 126.4,626.8 127.5,626.0 128.7,625.6 129.8,624.2 130.9,623.7 132.0,622.8 133.2,622.0 134.3,621.0 135.4,620.2 136.5,619.2 137.7,618.9 138.8,618.2 139.9,617.2 141.1,616.5 142.2,615.4 143.3,615.0 144.4,614.0 145.6,613.0 146.7,612.2 147.8,611.5 148.9,610.5 150.1,609.7 151.2,609.5 152.3,608.3 153.4,607.5 154.6,606.8 155.7,606.1 156.8,605.2 157.9,604.3 159.1,603.5 160.2,602.5 161.3,601.8 162.5,601.3 163.6,600.5 164.7,599.4 165.8,598.9 167.0,597.9 168.1,597.1 169.2,596.1 170.3,595.4 171.5,594.4 172.6,594.0 173.7,593.0 174.8,592.5 176.0,591.5 177.1,590.7 178.2,590.1 179.4,589.7 180.5,588.1 181.6,587.5 182.7,586.7 183.9,586.1 185.0,585.2 186.1,584.2 187.2,583.5 188.4,582.5 189.5,581.9 190.6,581.3 191.8,580.2 192.9,579.6 194.0,578.7 195.1,578.3 196.3,577.2 197.4,576.2 198.5,575.6 199.6,574.7 200.8,573.8 201.9,573.1 203.0,571.9 204.1,571.5 205.3,570.7 206.4,569.9 207.5,569.5 208.7,568.6 209.8,567.3 210.9,566.7 212.0,565.6 213.2,565.1 214.3,564.3 215.4,563.2 216.5,562.6 217.7,561.5 218.8,561.2 219.9,560.1 221.0,559.3 222.2,558.5 223.3,557.6 224.4,556.8 225.6,556.2 226.7,555.5 227.8,554.4 228.9,553.8 230.1,552.8 231.2,551.9 232.3,551.3 233.4,550.7" fill="none" stroke="#4a6a4a" stroke-width="0.9" stroke-linejoin="round"/>
<polyline points="68.9,676.7 70.1,674.9 71.2,673.6 72.3,671.8 73.5,670.7 74.6,669.3 75.7,668.2 76.8,666.8 78.0,665.3 79.1,664.5 80.2,663.3 81.3,662.3 82.5,660.9 83.6,660.3 84.7,659.1 85.8,657.7 87.0,656.6 88.1,656.0 89.2,654.8 90.3,654.5 91.5,653.0 92.6,652.2 93.7,651.6 94.9,650.8 96.0,649.7 97.1,648.6 98.2,647.8 99.4,647.0 100.5,646.0 101.6,645.3 102.7,644.9 103.9,644.0 105.0,643.2 106.1,642.2 107.2,641.8 108.4,640.7 109.5,640.2 110.6,639.0 111.8,638.8 112.9,638.1 114.0,637.4 115.1,636.6 116.3,635.4 117.4,635.4 118.5,634.8 119.6,633.9 120.8,633.1 121.9,632.7 123.0,631.7 124.2,631.0 125.3,630.5 126.4,629.9 127.5,629.3 128.7,628.5 129.8,628.0 130.9,626.9 132.0,626.1 133.2,625.8 134.3,625.1 135.4,624.9 136.5,623.9 137.7,623.1 138.8,622.4 139.9,621.8 141.1,621.0 142.2,620.5 143.3,619.9 144.4,618.8 145.6,618.9 146.7,618.1 147.8,617.4 148.9,616.7 150.1,616.1 151.2,615.3 152.3,614.7 153.4,613.9 154.6,613.1 155.7,612.6 156.8,611.9 157.9,611.5 159.1,610.9 160.2,610.1 161.3,609.2 162.5,608.6 163.6,607.8 164.7,607.2 165.8,606.5 167.0,606.3 168.1,605.2 169.2,604.6 170.3,603.7 171.5,603.4 172.6,602.8 173.7,602.2 174.8,601.5 176.0,601.3 177.1,600.3 178.2,599.6 179.4,598.8 180.5,598.5 181.6,597.6 182.7,596.6 183.9,596.5 185.0,595.5 186.1,595.2 187.2,594.5 188.4,593.7 189.5,593.0 190.6,592.6 191.8,592.1 192.9,590.9 194.0,590.5 195.1,589.7 196.3,589.1 197.4,588.5 198.5,588.0 199.6,587.3 200.8,587.0 201.9,586.0 203.0,585.5 204.1,584.7 205.3,583.7 206.4,583.3 207.5,582.8 208.7,582.4 209.8,581.4 210.9,580.5 212.0,580.4 213.2,579.5 214.3,579.0 215.4,578.3 216.5,577.7 217.7,577.3 218.8,576.5 219.9,576.0 221.0,574.8 222.2,574.2 223.3,573.8 224.4,573.1 225.6,572.5 226.7,571.8 227.8,571.2 228.9,570.6 230.1,569.9 231.2,569.5 232.3,568.8 233.4,568.1" fill="none" stroke="#4a6a4a" stroke-width="0.9" stroke-linejoin="round"/>
<polyline points="68.9,676.6 70.1,675.1 71.2,673.6 72.3,672.1 73.5,670.7 74.6,669.4 75.7,668.1 76.8,666.8 78.0,665.6 79.1,664.4 80.2,663.3 81.3,662.2 82.5,661.1 83.6,660.0 84.7,659.0 85.8,657.9 87.0,656.9 88.1,656.0 89.2,655.0 90.3,654.1 91.5,653.1 92.6,652.2 93.7,651.3 94.9,650.5 96.0,649.6 97.1,648.7 98.2,647.9 99.4,647.0 100.5,646.2 101.6,645.4 102.7,644.5 103.9,643.7 105.0,642.9 106.1,642.1 107.2,641.3 108.4,640.5 109.5,639.8 110.6,639.0 111.8,638.2 112.9,637.4 114.0,636.7 115.1,635.9 116.3,635.1 117.4,634.4 118.5,633.6 119.6,632.8 120.8,632.1 121.9,631.3 123.0,630.6 124.2,629.8 125.3,629.1 126.4,628.4 127.5,627.6 128.7,626.9 129.8,626.1 130.9,625.4 132.0,624.7 133.2,623.9 134.3,623.2 135.4,622.4 136.5,621.7 137.7,621.0 138.8,620.2 139.9,619.5 141.1,618.8 142.2,618.1 143.3,617.3 144.4,616.6 145.6,615.9 146.7,615.1 147.8,614.4 148.9,613.7 150.1,612.9 151.2,612.2 152.3,611.5 153.4,610.8 154.6,610.0 155.7,609.3 156.8,608.6 157.9,607.8 159.1,607.1 160.2,606.4 161.3,605.7 162.5,604.9 163.6,604.2 164.7,603.5 165.8,602.8 167.0,602.0 168.1,601.3 169.2,600.6 170.3,599.9 171.5,599.1 172.6,598.4 173.7,597.7 174.8,597.0 176.0,596.2 177.1,595.5 178.2,594.8 179.4,594.1 180.5,593.3 181.6,592.6 182.7,591.9 183.9,591.2 185.0,590.4 186.1,589.7 187.2,589.0 188.4,588.3 189.5,587.5 190.6,586.8 191.8,586.1 192.9,585.4 194.0,584.6 195.1,583.9 196.3,583.2 197.4,582.5 198.5,581.7 199.6,581.0 200.8,580.3 201.9,579.6 203.0,578.8 204.1,578.1 205.3,577.4 206.4,576.7 207.5,575.9 208.7,575.2 209.8,574.5 210.9,573.8 212.0,573.0 213.2,572.3 214.3,571.6 215.4,570.9 216.5,570.1 217.7,569.4 218.8,568.7 219.9,568.0 221.0,567.2 222.2,566.5 223.3,565.8 224.4,565.1 225.6,564.3 226.7,563.6 227.8,562.9 228.9,562.2 230.1,561.4 231.2,560.7 232.3,560.0 233.4,559.3" fill="none" stroke="#22a822" stroke-width="1.9" stroke-linejoin="round"/>
<polyline points="65.0,649.9 65.6,653.4 66.4,662.9 67.5,672.3 68.9,675.9" fill="none" stroke="#20a020" stroke-width="1.0" stroke-linejoin="round"/>
<text class="b" x="83.00" y="528.90" font-size="7.6" textLength="14.30" lengthAdjust="spacingAndGlyphs">SPR</text>
<text class="b" x="102.80" y="528.90" font-size="7.6" textLength="36.70" lengthAdjust="spacingAndGlyphs">FNAIT sera</text>
<line x1="68.3" y1="533.8" x2="78.2" y2="533.8" stroke="#2020c0" stroke-width="1.8"/>
<text class="r" x="83.00" y="536.50" font-size="7.5" textLength="69.50" lengthAdjust="spacingAndGlyphs">CRP (anti-HPA-5b IgG)</text>
<line x1="68.3" y1="542.0" x2="78.2" y2="542.0" stroke="#20b020" stroke-width="1.8"/>
<text class="r" x="83.00" y="544.70" font-size="7.5" textLength="70.70" lengthAdjust="spacingAndGlyphs">CRP (anti-HPA-1a IgG)</text>
<line x1="68.3" y1="551.3" x2="78.2" y2="551.3" stroke="#e06070" stroke-width="1.8"/>
<text class="r" x="83.00" y="554.00" font-size="7.5" textLength="94.50" lengthAdjust="spacingAndGlyphs">CRP (anti-HPA-1a IgG+CWPS)</text>
<line x1="68.3" y1="560.0" x2="78.2" y2="560.0" stroke="#aaaaaa" stroke-width="1.8" stroke-dasharray="3,2"/>
<text class="r" x="83.00" y="562.70" font-size="7.5" textLength="66.50" lengthAdjust="spacingAndGlyphs">BSA (anti-HPA-5b IgG)</text>
<line x1="68.3" y1="568.0" x2="78.2" y2="568.0" stroke="#000000" stroke-width="1.8"/>
<text class="r" x="83.00" y="570.70" font-size="7.5" textLength="67.50" lengthAdjust="spacingAndGlyphs">BSA (anti-HPA-1a IgG)</text>
<line x1="68.3" y1="576.3" x2="78.2" y2="576.3" stroke="#aaaaaa" stroke-width="1.8"/>
<text class="r" x="83.00" y="579.00" font-size="7.5" textLength="94.50" lengthAdjust="spacingAndGlyphs">BSA (anti-HPA-1a IgG+CWPS)</text>
<line x1="236.70" y1="549.40" x2="236.70" y2="607.00" stroke="#000" stroke-width="1.2" />
<line x1="236.70" y1="613.00" x2="236.70" y2="658.00" stroke="#000" stroke-width="1.2" />
<line x1="253.40" y1="552.00" x2="253.40" y2="655.00" stroke="#000" stroke-width="1.2" />
<text class="b" x="239.97" y="582.20" font-size="13.0" text-anchor="middle" transform="rotate(90 239.97 582.20)">***</text>
<text class="b" x="239.97" y="633.00" font-size="13.0" text-anchor="middle" transform="rotate(90 239.97 633.00)">***</text>
<text class="b" x="257.97" y="606.40" font-size="13.0" text-anchor="middle" transform="rotate(90 257.97 606.40)">***</text>
<text class="b" x="281.40" y="18.70" font-size="17.5">E</text>
<line x1="328.20" y1="21.70" x2="328.20" y2="138.50" stroke="#000" stroke-width="1.6" />
<line x1="327.50" y1="137.80" x2="502.50" y2="137.80" stroke="#000" stroke-width="1.6" />
<line x1="323.90" y1="137.60" x2="328.20" y2="137.60" stroke="#000" stroke-width="1.6" />
<text class="b" x="318.95" y="140.50" font-size="8.4" textLength="4.25" lengthAdjust="spacingAndGlyphs">0</text>
<line x1="323.90" y1="99.10" x2="328.20" y2="99.10" stroke="#000" stroke-width="1.6" />
<text class="b" x="314.70" y="102.00" font-size="8.4" textLength="8.50" lengthAdjust="spacingAndGlyphs">50</text>
<line x1="323.90" y1="60.60" x2="328.20" y2="60.60" stroke="#000" stroke-width="1.6" />
<text class="b" x="310.45" y="63.50" font-size="8.4" textLength="12.75" lengthAdjust="spacingAndGlyphs">100</text>
<line x1="323.90" y1="22.10" x2="328.20" y2="22.10" stroke="#000" stroke-width="1.6" />
<text class="b" x="310.45" y="25.00" font-size="8.4" textLength="12.75" lengthAdjust="spacingAndGlyphs">150</text>
<line x1="328.20" y1="137.80" x2="328.20" y2="140.80" stroke="#000" stroke-width="1.6" />
<text class="b" x="326.00" y="150.20" font-size="8.6" textLength="4.40" lengthAdjust="spacingAndGlyphs">0</text>
<line x1="399.10" y1="137.80" x2="399.10" y2="140.80" stroke="#000" stroke-width="1.6" />
<text class="b" x="392.50" y="150.20" font-size="8.6" textLength="13.20" lengthAdjust="spacingAndGlyphs">500</text>
<line x1="470.00" y1="137.80" x2="470.00" y2="140.80" stroke="#000" stroke-width="1.6" />
<text class="b" x="461.20" y="150.20" font-size="8.6" textLength="17.60" lengthAdjust="spacingAndGlyphs">1000</text>
<text class="b" x="397.50" y="163.40" font-size="8.8" textLength="36.00" lengthAdjust="spacingAndGlyphs">Time (s)</text>
<text class="b" x="307.40" y="85.60" font-size="9.4" textLength="13.00" lengthAdjust="spacingAndGlyphs" transform="rotate(-90 307.40 85.60)">RU</text>
<polyline points="328.2,137.6 329.5,137.6 330.8,137.6 332.0,137.6 333.3,137.6 334.6,137.6 335.9,137.6 337.1,137.6 338.4,137.6 339.7,137.6 341.0,137.6 342.2,137.6 343.5,137.6 344.8,137.6 346.1,137.6 347.3,137.6 348.6,137.6 349.9,137.6 351.2,137.6 352.4,137.6 353.7,137.6 355.0,137.6 356.3,137.6 357.6,137.6 358.8,137.6 360.1,137.6 361.4,137.6 362.7,137.6 363.9,137.6 365.2,137.6 366.5,137.6 367.8,137.6 369.0,137.6 370.3,137.6 371.6,137.6 372.9,137.6 374.1,137.6 375.4,137.6 376.7,137.6 378.0,137.6 379.2,137.6 380.5,137.6 381.8,137.6 383.1,137.6 384.4,137.6 385.6,137.6 386.9,137.6 388.2,137.6 389.5,136.2 390.7,137.6 392.0,134.2 393.3,135.0 394.6,135.5 395.8,136.1 397.1,134.6 398.4,137.6 399.7,135.8 400.9,135.3 402.2,137.6 403.5,136.3 404.8,137.3 406.0,134.6 407.3,137.4 408.6,136.5 409.9,135.4 411.2,137.6 412.4,134.8 413.7,136.2 415.0,134.8 416.3,137.3 417.5,133.3 418.8,134.2 420.1,136.3 421.4,134.4 422.6,132.6 423.9,131.0 425.2,137.6 426.5,134.1 427.7,134.6 429.0,136.1 430.3,137.6 431.6,133.0 432.8,137.6 434.1,134.8 435.4,132.5 436.7,137.6 438.0,137.1 439.2,137.6 440.5,135.7 441.8,132.0 443.1,130.3 444.3,137.6 445.6,137.6 446.9,134.3 448.2,131.6 449.4,134.4 450.7,137.6 452.0,135.3 453.3,135.9 454.5,136.4 455.8,137.6 457.1,135.1 458.4,135.0 459.6,136.0 460.9,136.4 462.2,137.6 463.5,137.5 464.8,132.9 466.0,136.0 467.3,137.6 468.6,132.7 469.9,134.1 471.1,130.1 472.4,135.1 473.7,136.9 475.0,137.6 476.2,132.7 477.5,128.8 478.8,137.2 480.1,137.6 481.3,134.4 482.6,137.6 483.9,136.7 485.2,136.8 486.4,135.3 487.7,132.8 489.0,135.4 490.3,133.3 491.6,136.6 492.8,134.9 494.1,137.6 495.4,137.6 496.7,134.1 497.9,137.1 499.2,134.3 500.5,134.1 501.8,132.1" fill="none" stroke="#b4b4b4" stroke-width="1.5" stroke-linejoin="round"/>
<polyline points="328.2,137.6 329.5,137.6 330.8,137.6 332.0,137.6 333.3,137.6 334.6,137.6 335.9,137.6 337.1,137.6 338.4,137.6 339.7,137.6 341.0,137.6 342.2,137.6 343.5,137.1 344.8,135.9 346.1,133.4 347.3,134.5 348.6,137.6 349.9,137.6 351.2,131.1 352.4,133.7 353.7,131.0 355.0,129.9 356.3,137.6 357.6,135.2 358.8,134.8 360.1,134.4 361.4,134.4 362.7,135.3 363.9,135.4 365.2,137.6 366.5,136.7 367.8,137.6 369.0,135.7 370.3,137.0 371.6,134.2 372.9,133.4 374.1,134.6 375.4,134.7 376.7,135.3 378.0,136.8 379.2,136.1 380.5,136.9 381.8,134.6 383.1,135.4 384.4,133.9 385.6,137.6 386.9,133.4 388.2,137.2 389.5,137.5 390.7,136.1 392.0,136.9 393.3,134.7 394.6,136.8 395.8,137.6 397.1,137.6 398.4,132.1 399.7,134.9 400.9,137.6 402.2,135.6 403.5,137.6 404.8,131.0 406.0,137.6 407.3,134.5 408.6,133.8 409.9,137.6 411.2,135.0 412.4,132.7 413.7,133.9 415.0,134.6 416.3,132.8 417.5,134.8 418.8,134.5 420.1,135.7 421.4,133.8 422.6,137.6 423.9,133.6 425.2,136.7 426.5,137.6 427.7,134.8 429.0,130.9 430.3,132.5 431.6,136.6 432.8,133.8 434.1,136.6 435.4,136.0 436.7,135.4 438.0,137.6 439.2,135.7 440.5,137.6 441.8,137.6 443.1,137.6 444.3,137.6 445.6,137.6 446.9,133.7 448.2,131.0 449.4,135.2 450.7,132.7 452.0,136.1 453.3,137.6 454.5,135.8 455.8,137.6 457.1,137.6 458.4,137.6 459.6,137.6 460.9,137.6 462.2,137.6 463.5,137.6 464.8,137.6 466.0,137.6 467.3,137.6 468.6,137.6 469.9,137.6 471.1,134.5 472.4,133.7 473.7,134.2 475.0,133.4 476.2,137.3 477.5,134.7 478.8,137.6 480.1,137.6 481.3,137.6 482.6,137.6 483.9,137.6 485.2,137.6 486.4,137.6 487.7,137.6 489.0,137.6 490.3,137.6 491.6,137.6 492.8,137.6 494.1,137.6 495.4,137.6 496.7,137.6 497.9,137.6 499.2,137.6 500.5,137.6 501.8,137.6" fill="none" stroke="#111" stroke-width="1.5" stroke-linejoin="round"/>
<polyline points="328.2,137.6 329.5,137.6 330.8,137.6 332.0,137.6 333.3,137.6 334.6,137.6 335.9,137.6 337.1,136.6 338.4,136.8 339.7,136.0 341.0,137.0 342.2,136.2 343.5,134.8 344.8,135.1 346.1,134.7 347.3,133.9 348.6,135.2 349.9,133.0 351.2,132.3 352.4,133.5 353.7,133.2 355.0,131.3 356.3,132.9 357.6,134.2 358.8,133.6 360.1,130.8 361.4,130.0 362.7,132.9 363.9,130.2 365.2,125.2 366.5,131.2 367.8,127.7 369.0,131.2 370.3,129.1 371.6,131.7 372.9,129.5 374.1,125.2 375.4,127.4 376.7,124.6 378.0,126.9 379.2,126.4 380.5,120.5 381.8,124.6 383.1,124.7 384.4,124.5 385.6,124.8 386.9,121.9 388.2,125.6 389.5,125.5 390.7,124.6 392.0,115.0 393.3,117.6 394.6,126.7 395.8,123.4 397.1,126.9 398.4,120.3 399.7,119.1 400.9,117.5 402.2,117.0 403.5,116.7 404.8,120.7 406.0,118.5 407.3,116.5 408.6,115.4 409.9,116.9 411.2,117.6 412.4,117.3 413.7,117.1 415.0,116.1 416.3,120.1 417.5,117.3 418.8,118.5 420.1,124.9 421.4,115.9 422.6,115.9 423.9,115.6 425.2,114.7 426.5,112.7 427.7,114.5 429.0,118.8 430.3,116.2 431.6,113.6 432.8,108.8 434.1,108.4 435.4,109.6 436.7,115.9 438.0,115.8 439.2,110.6 440.5,111.8 441.8,109.2 443.1,112.2 444.3,111.9 445.6,114.7 446.9,109.7 448.2,110.3 449.4,109.9 450.7,107.5 452.0,107.8 453.3,107.6 454.5,106.8 455.8,106.6 457.1,106.6 458.4,107.7 459.6,108.5 460.9,102.7 462.2,107.6 463.5,102.8 464.8,105.6 466.0,107.1 467.3,109.1 468.6,105.0 469.9,102.8 471.1,101.7 472.4,105.3 473.7,107.6 475.0,105.8 476.2,101.5 477.5,108.9 478.8,101.9 480.1,103.5 481.3,101.9 482.6,102.6 483.9,102.6 485.2,100.0 486.4,101.6 487.7,99.7 489.0,99.3 490.3,100.9 491.6,97.6 492.8,101.3 494.1,101.9 495.4,99.2 496.7,100.7 497.9,97.7 499.2,96.3 500.5,96.6 501.8,92.4" fill="none" stroke="#e83c3c" stroke-width="1.4" stroke-linejoin="round"/>
<polyline points="328.2,137.6 329.5,137.6 330.8,137.6 332.0,137.6 333.3,137.6 334.6,137.6 335.9,137.6 337.1,137.6 338.4,137.6 339.7,137.4 341.0,137.6 342.2,137.6 343.5,136.2 344.8,137.4 346.1,137.6 347.3,136.7 348.6,137.6 349.9,137.3 351.2,137.6 352.4,136.8 353.7,137.6 355.0,135.3 356.3,136.0 357.6,136.3 358.8,135.8 360.1,134.5 361.4,134.1 362.7,137.2 363.9,134.4 365.2,128.7 366.5,134.2 367.8,134.2 369.0,132.6 370.3,131.9 371.6,137.6 372.9,135.1 374.1,130.2 375.4,132.7 376.7,127.7 378.0,134.2 379.2,131.3 380.5,127.3 381.8,131.2 383.1,134.6 384.4,134.3 385.6,130.7 386.9,125.9 388.2,129.4 389.5,130.1 390.7,128.9 392.0,124.2 393.3,124.7 394.6,131.5 395.8,130.7 397.1,129.8 398.4,126.7 399.7,129.4 400.9,122.3 402.2,122.3 403.5,125.4 404.8,124.2 406.0,126.1 407.3,125.8 408.6,121.8 409.9,123.8 411.2,125.7 412.4,121.4 413.7,122.8 415.0,124.0 416.3,128.0 417.5,128.5 418.8,125.6 420.1,131.5 421.4,123.8 422.6,124.4 423.9,125.0 425.2,123.7 426.5,121.3 427.7,123.8 429.0,128.8 430.3,125.3 431.6,121.4 432.8,121.3 434.1,119.1 435.4,119.5 436.7,123.8 438.0,126.6 439.2,122.6 440.5,122.0 441.8,120.5 443.1,121.3 444.3,121.3 445.6,125.2 446.9,121.3 448.2,121.7 449.4,117.9 450.7,119.9 452.0,120.4 453.3,118.2 454.5,122.2 455.8,121.0 457.1,120.5 458.4,121.2 459.6,118.4 460.9,115.4 462.2,117.5 463.5,117.2 464.8,120.7 466.0,123.0 467.3,120.1 468.6,118.6 469.9,119.5 471.1,116.2 472.4,122.1 473.7,118.9 475.0,116.8 476.2,115.4 477.5,123.2 478.8,117.0 480.1,119.7 481.3,116.0 482.6,119.3 483.9,115.9 485.2,113.6 486.4,116.0 487.7,116.6 489.0,115.4 490.3,119.5 491.6,115.8 492.8,116.4 494.1,116.4 495.4,116.8 496.7,113.7 497.9,113.2 499.2,115.4 500.5,113.7 501.8,109.0" fill="none" stroke="#e83c3c" stroke-width="1.4" stroke-linejoin="round"/>
<polyline points="328.2,137.6 329.5,137.6 330.8,137.6 332.0,137.6 333.3,137.6 334.6,137.6 335.9,137.6 337.1,137.2 338.4,137.0 339.7,136.7 341.0,137.0 342.2,136.7 343.5,135.4 344.8,135.5 346.1,134.7 347.3,134.8 348.6,135.7 349.9,133.6 351.2,135.2 352.4,135.1 353.7,135.8 355.0,133.4 356.3,134.7 357.6,135.6 358.8,134.1 360.1,134.4 361.4,133.3 362.7,134.9 363.9,130.9 365.2,126.1 366.5,133.3 367.8,128.8 369.0,131.7 370.3,128.8 371.6,132.1 372.9,133.0 374.1,131.2 375.4,129.5 376.7,125.3 378.0,128.5 379.2,128.3 380.5,121.3 381.8,126.7 383.1,130.7 384.4,126.6 385.6,127.1 386.9,126.1 388.2,126.8 389.5,125.9 390.7,124.6 392.0,122.6 393.3,122.5 394.6,130.5 395.8,126.7 397.1,127.6 398.4,125.7 399.7,124.0 400.9,121.3 402.2,121.9 403.5,122.1 404.8,123.5 406.0,122.3 407.3,121.5 408.6,120.5 409.9,121.9 411.2,123.2 412.4,118.4 413.7,120.4 415.0,121.0 416.3,123.1 417.5,122.8 418.8,122.1 420.1,128.5 421.4,118.1 422.6,119.5 423.9,120.9 425.2,116.3 426.5,117.7 427.7,118.2 429.0,124.5 430.3,122.2 431.6,118.0 432.8,113.7 434.1,114.6 435.4,112.8 436.7,120.3 438.0,123.2 439.2,116.6 440.5,116.8 441.8,114.0 443.1,117.1 444.3,117.2 445.6,121.4 446.9,117.4 448.2,118.0 449.4,116.8 450.7,114.1 452.0,115.7 453.3,116.5 454.5,111.9 455.8,113.1 457.1,114.2 458.4,113.3 459.6,113.2 460.9,111.1 462.2,114.6 463.5,112.4 464.8,110.4 466.0,113.5 467.3,114.9 468.6,112.4 469.9,110.0 471.1,111.7 472.4,114.4 473.7,114.6 475.0,109.3 476.2,105.2 477.5,113.1 478.8,110.2 480.1,110.5 481.3,111.7 482.6,110.8 483.9,110.6 485.2,108.1 486.4,109.1 487.7,108.5 489.0,107.1 490.3,108.6 491.6,106.6 492.8,108.9 494.1,108.3 495.4,107.4 496.7,105.8 497.9,105.7 499.2,109.2 500.5,107.9 501.8,100.3" fill="none" stroke="#9a0e0e" stroke-width="1.8" stroke-linejoin="round"/>
<polyline points="328.2,137.6 329.5,137.6 330.8,136.4 332.0,136.9 333.3,136.4 334.6,137.5 335.9,136.4 337.1,136.2 338.4,136.5 339.7,137.0 341.0,134.2 342.2,133.6 343.5,133.2 344.8,132.4 346.1,132.6 347.3,129.3 348.6,132.2 349.9,130.0 351.2,128.1 352.4,129.2 353.7,128.8 355.0,128.4 356.3,127.2 357.6,128.0 358.8,125.6 360.1,125.4 361.4,127.4 362.7,125.3 363.9,128.1 365.2,128.8 366.5,124.2 367.8,127.0 369.0,123.8 370.3,120.6 371.6,123.4 372.9,117.4 374.1,120.8 375.4,116.2 376.7,114.1 378.0,106.9 379.2,110.2 380.5,111.5 381.8,113.2 383.1,112.2 384.4,106.8 385.6,109.8 386.9,107.6 388.2,107.3 389.5,106.1 390.7,109.6 392.0,105.3 393.3,102.5 394.6,101.1 395.8,101.5 397.1,102.6 398.4,101.8 399.7,96.9 400.9,100.2 402.2,103.0 403.5,96.9 404.8,99.5 406.0,94.4 407.3,97.9 408.6,93.3 409.9,94.7 411.2,91.0 412.4,89.3 413.7,87.2 415.0,85.4 416.3,88.9 417.5,94.4 418.8,91.4 420.1,85.6 421.4,79.4 422.6,75.1 423.9,85.9 425.2,78.3 426.5,78.5 427.7,78.3 429.0,77.5 430.3,71.3 431.6,78.7 432.8,78.4 434.1,76.3 435.4,79.2 436.7,74.3 438.0,74.5 439.2,71.4 440.5,70.8 441.8,73.6 443.1,68.6 444.3,71.4 445.6,67.0 446.9,75.3 448.2,66.9 449.4,69.1 450.7,64.8 452.0,67.0 453.3,70.9 454.5,67.9 455.8,63.9 457.1,61.8 458.4,68.6 459.6,65.6 460.9,66.5 462.2,62.5 463.5,60.8 464.8,60.8 466.0,55.6 467.3,53.5 468.6,52.5 469.9,57.9 471.1,51.8 472.4,57.0 473.7,59.0 475.0,53.8 476.2,54.7 477.5,54.8 478.8,47.4 480.1,50.7 481.3,50.7 482.6,47.2 483.9,47.6 485.2,50.4 486.4,49.7 487.7,46.7 489.0,51.3 490.3,48.8 491.6,47.6 492.8,46.0 494.1,43.5 495.4,44.0 496.7,46.7 497.9,44.2 499.2,41.0 500.5,43.4 501.8,39.0" fill="none" stroke="#30c030" stroke-width="1.5" stroke-linejoin="round"/>
<polyline points="328.2,137.6 329.5,137.6 330.8,137.4 332.0,137.4 333.3,137.5 334.6,137.6 335.9,137.1 337.1,136.9 338.4,137.6 339.7,137.6 341.0,137.2 342.2,135.7 343.5,136.3 344.8,135.8 346.1,134.9 347.3,132.4 348.6,134.9 349.9,133.8 351.2,131.0 352.4,132.4 353.7,131.5 355.0,130.6 356.3,130.0 357.6,128.8 358.8,129.2 360.1,129.3 361.4,131.4 362.7,128.2 363.9,128.9 365.2,131.1 366.5,126.1 367.8,129.9 369.0,133.5 370.3,126.4 371.6,125.9 372.9,118.2 374.1,123.9 375.4,116.8 376.7,115.8 378.0,112.7 379.2,113.6 380.5,118.9 381.8,116.1 383.1,115.7 384.4,113.7 385.6,115.6 386.9,112.5 388.2,114.4 389.5,112.6 390.7,113.3 392.0,105.5 393.3,111.9 394.6,108.5 395.8,111.2 397.1,107.5 398.4,108.9 399.7,106.6 400.9,102.4 402.2,108.4 403.5,105.2 404.8,106.9 406.0,100.2 407.3,106.5 408.6,103.2 409.9,103.6 411.2,97.5 412.4,96.9 413.7,98.7 415.0,93.9 416.3,98.0 417.5,104.6 418.8,99.2 420.1,97.8 421.4,95.7 422.6,89.5 423.9,98.1 425.2,85.6 426.5,88.9 427.7,86.7 429.0,90.9 430.3,81.7 431.6,88.1 432.8,90.6 434.1,88.5 435.4,91.6 436.7,86.0 438.0,85.6 439.2,87.4 440.5,88.8 441.8,94.9 443.1,85.5 444.3,87.6 445.6,83.2 446.9,89.0 448.2,85.3 449.4,88.0 450.7,85.4 452.0,85.4 453.3,92.9 454.5,87.2 455.8,86.3 457.1,82.2 458.4,87.5 459.6,89.7 460.9,87.6 462.2,85.4 463.5,84.3 464.8,85.7 466.0,75.4 467.3,77.5 468.6,78.8 469.9,83.2 471.1,82.1 472.4,84.8 473.7,84.8 475.0,77.5 476.2,81.0 477.5,80.6 478.8,77.3 480.1,76.3 481.3,75.0 482.6,73.5 483.9,74.4 485.2,81.6 486.4,77.9 487.7,75.5 489.0,78.3 490.3,75.9 491.6,76.0 492.8,74.7 494.1,71.5 495.4,74.7 496.7,77.7 497.9,75.5 499.2,72.7 500.5,75.6 501.8,75.4" fill="none" stroke="#30c030" stroke-width="1.5" stroke-linejoin="round"/>
<polyline points="328.2,137.6 329.5,136.9 330.8,136.1 332.0,137.2 333.3,137.0 334.6,137.2 335.9,136.5 337.1,136.4 338.4,137.2 339.7,136.7 341.0,135.5 342.2,135.3 343.5,134.8 344.8,134.2 346.1,134.0 347.3,130.7 348.6,132.1 349.9,130.9 351.2,129.4 352.4,132.5 353.7,130.5 355.0,127.4 356.3,124.4 357.6,127.8 358.8,128.0 360.1,126.2 361.4,127.8 362.7,124.0 363.9,125.0 365.2,130.1 366.5,124.9 367.8,129.3 369.0,126.8 370.3,123.0 371.6,124.7 372.9,121.7 374.1,125.2 375.4,118.7 376.7,116.6 378.0,113.7 379.2,112.6 380.5,113.2 381.8,112.8 383.1,115.2 384.4,110.4 385.6,114.2 386.9,112.1 388.2,113.6 389.5,110.1 390.7,111.3 392.0,99.5 393.3,107.7 394.6,106.4 395.8,105.7 397.1,100.3 398.4,103.6 399.7,102.4 400.9,101.0 402.2,105.6 403.5,101.7 404.8,101.7 406.0,101.3 407.3,102.0 408.6,98.3 409.9,97.9 411.2,92.8 412.4,94.6 413.7,98.0 415.0,91.0 416.3,93.2 417.5,98.9 418.8,97.2 420.1,92.5 421.4,87.2 422.6,81.6 423.9,89.4 425.2,82.1 426.5,81.4 427.7,86.3 429.0,83.2 430.3,78.0 431.6,81.3 432.8,82.9 434.1,83.3 435.4,86.6 436.7,83.0 438.0,85.3 439.2,80.9 440.5,78.9 441.8,83.8 443.1,75.0 444.3,79.9 445.6,74.7 446.9,81.8 448.2,79.0 449.4,77.1 450.7,74.4 452.0,76.5 453.3,81.1 454.5,78.6 455.8,74.3 457.1,72.2 458.4,79.5 459.6,77.8 460.9,77.4 462.2,73.3 463.5,73.2 464.8,72.4 466.0,70.5 467.3,64.8 468.6,64.9 469.9,68.9 471.1,65.9 472.4,69.2 473.7,76.7 475.0,66.0 476.2,64.2 477.5,65.3 478.8,62.9 480.1,63.2 481.3,62.1 482.6,64.1 483.9,63.6 485.2,68.5 486.4,63.3 487.7,61.9 489.0,62.4 490.3,62.6 491.6,64.2 492.8,55.1 494.1,58.6 495.4,57.5 496.7,58.1 497.9,58.7 499.2,60.7 500.5,58.9 501.8,55.8" fill="none" stroke="#13801a" stroke-width="1.9" stroke-linejoin="round"/>
<line x1="335.00" y1="25.80" x2="348.30" y2="25.80" stroke="#1e9a1e" stroke-width="1.4" />
<text class="b" x="354.80" y="28.70" font-size="7.9" textLength="50.50" lengthAdjust="spacingAndGlyphs">CRP (+B2G1)</text>
<line x1="335.00" y1="38.00" x2="348.30" y2="38.00" stroke="#a01818" stroke-width="1.4" />
<text class="b" x="354.80" y="40.90" font-size="7.9" textLength="68.00" lengthAdjust="spacingAndGlyphs">CRP (+B2G1+DPI)</text>
<line x1="335.00" y1="49.80" x2="348.30" y2="49.80" stroke="#000" stroke-width="1.4" />
<text class="b" x="354.80" y="52.70" font-size="7.9" textLength="50.50" lengthAdjust="spacingAndGlyphs">BSA (+B2G1)</text>
<line x1="335.00" y1="61.40" x2="348.30" y2="61.40" stroke="#aaa" stroke-width="1.4" />
<text class="b" x="354.80" y="64.30" font-size="7.9" textLength="68.00" lengthAdjust="spacingAndGlyphs">BSA (+B2G1+DPI)</text>
<line x1="508.40" y1="59.50" x2="508.40" y2="102.40" stroke="#000" stroke-width="1.3" />
<text class="b" x="510.25" y="84.00" font-size="10.3" text-anchor="middle" transform="rotate(90 510.25 84.00)">**</text>
<text class="b" x="281.40" y="183.00" font-size="17.5">F</text>
<line x1="328.20" y1="171.00" x2="328.20" y2="287.60" stroke="#000" stroke-width="1.6" />
<line x1="327.50" y1="286.90" x2="503.80" y2="286.90" stroke="#000" stroke-width="1.6" />
<line x1="323.90" y1="286.60" x2="328.20" y2="286.60" stroke="#000" stroke-width="1.6" />
<text class="b" x="318.95" y="289.50" font-size="8.4" textLength="4.25" lengthAdjust="spacingAndGlyphs">0</text>
<line x1="323.90" y1="248.43" x2="328.20" y2="248.43" stroke="#000" stroke-width="1.6" />
<text class="b" x="314.70" y="251.32" font-size="8.4" textLength="8.50" lengthAdjust="spacingAndGlyphs">50</text>
<line x1="323.90" y1="210.25" x2="328.20" y2="210.25" stroke="#000" stroke-width="1.6" />
<text class="b" x="310.45" y="213.15" font-size="8.4" textLength="12.75" lengthAdjust="spacingAndGlyphs">100</text>
<line x1="323.90" y1="172.08" x2="328.20" y2="172.08" stroke="#000" stroke-width="1.6" />
<text class="b" x="310.45" y="174.97" font-size="8.4" textLength="12.75" lengthAdjust="spacingAndGlyphs">150</text>
<line x1="328.20" y1="286.90" x2="328.20" y2="289.90" stroke="#000" stroke-width="1.6" />
<text class="b" x="326.00" y="299.30" font-size="8.6" textLength="4.40" lengthAdjust="spacingAndGlyphs">0</text>
<line x1="400.40" y1="286.90" x2="400.40" y2="289.90" stroke="#000" stroke-width="1.6" />
<text class="b" x="393.80" y="299.30" font-size="8.6" textLength="13.20" lengthAdjust="spacingAndGlyphs">500</text>
<line x1="472.60" y1="286.90" x2="472.60" y2="289.90" stroke="#000" stroke-width="1.6" />
<text class="b" x="463.80" y="299.30" font-size="8.6" textLength="17.60" lengthAdjust="spacingAndGlyphs">1000</text>
<text class="b" x="397.50" y="313.40" font-size="8.8" textLength="36.00" lengthAdjust="spacingAndGlyphs">Time (s)</text>
<text class="b" x="306.60" y="235.00" font-size="9.4" textLength="13.00" lengthAdjust="spacingAndGlyphs" transform="rotate(-90 306.60 235.00)">RU</text>
<polyline points="328.2,286.6 329.5,286.6 330.8,286.6 332.1,286.6 333.4,286.6 334.7,286.6 336.0,286.6 337.3,285.0 338.6,284.4 339.9,284.2 341.2,284.9 342.5,286.4 343.8,286.5 345.1,283.6 346.4,286.0 347.7,286.2 349.0,286.6 350.3,286.6 351.6,286.6 352.9,285.5 354.2,286.1 355.5,286.3 356.8,286.6 358.1,285.8 359.4,286.6 360.7,286.1 362.0,283.6 363.3,286.2 364.6,285.8 365.9,281.0 367.2,285.7 368.5,286.6 369.8,286.6 371.1,282.9 372.4,281.4 373.7,286.1 375.0,284.6 376.3,285.1 377.6,286.2 378.9,286.6 380.2,284.6 381.5,286.4 382.8,285.1 384.1,285.0 385.4,282.1 386.7,282.3 388.0,286.1 389.3,285.8 390.6,283.6 391.9,286.6 393.2,286.2 394.5,285.0 395.8,286.6 397.1,286.6 398.4,286.6 399.7,285.5 401.0,286.0 402.3,283.7 403.6,284.3 404.9,283.8 406.2,284.6 407.5,283.5 408.8,284.6 410.1,286.3 411.4,283.3 412.7,282.7 414.0,280.5 415.3,283.7 416.6,285.3 417.9,286.6 419.2,286.6 420.5,286.6 421.8,285.3 423.1,286.4 424.4,286.6 425.7,285.2 427.0,285.9 428.3,285.8 429.6,285.8 430.9,285.4 432.2,284.3 433.5,286.6 434.8,286.1 436.1,286.1 437.4,283.5 438.7,286.2 440.0,282.8 441.3,283.4 442.6,281.9 443.9,285.3 445.2,283.8 446.5,284.1 447.8,286.6 449.1,286.2 450.4,286.2 451.7,286.6 453.0,286.6 454.3,286.6 455.6,286.6 456.9,285.2 458.2,286.5 459.5,286.6 460.8,284.5 462.1,285.6 463.4,285.4 464.7,285.7 466.0,286.3 467.3,284.7 468.6,286.0 469.9,285.5 471.2,286.6 472.5,286.6 473.8,286.6 475.1,282.9 476.4,284.4 477.7,282.1 479.0,283.8 480.3,284.3 481.6,286.1 482.9,285.8 484.2,282.8 485.5,282.9 486.8,285.8 488.1,286.4 489.4,283.7 490.6,285.9 491.9,284.3 493.2,286.6 494.5,285.0 495.8,283.1 497.1,283.6 498.4,284.7 499.7,285.2 501.0,285.8 502.3,285.8 503.6,283.9" fill="none" stroke="#111" stroke-width="1.4" stroke-linejoin="round"/>
<polyline points="328.2,286.6 329.5,285.8 330.8,286.6 332.1,286.6 333.4,286.5 334.7,286.5 336.0,286.6 337.3,286.0 338.6,281.2 339.9,286.6 341.2,286.0 342.5,282.6 343.8,285.3 345.1,286.0 346.4,284.9 347.7,283.7 349.0,285.0 350.3,282.6 351.6,286.6 352.9,283.6 354.2,282.9 355.5,283.6 356.8,282.5 358.1,282.7 359.4,280.2 360.7,282.7 362.0,282.5 363.3,284.9 364.6,284.9 365.9,283.0 367.2,284.8 368.5,283.8 369.8,284.2 371.1,282.5 372.4,280.7 373.7,278.3 375.0,283.0 376.3,280.8 377.6,277.9 378.9,275.9 380.2,275.0 381.5,280.1 382.8,279.6 384.1,277.2 385.4,275.6 386.7,276.3 388.0,276.6 389.3,276.7 390.6,278.7 391.9,277.5 393.2,275.9 394.5,277.6 395.8,275.2 397.1,282.3 398.4,279.5 399.7,274.8 401.0,275.0 402.3,274.1 403.6,276.4 404.9,279.7 406.2,279.4 407.5,275.5 408.8,280.9 410.1,280.9 411.4,282.4 412.7,280.7 414.0,280.0 415.3,277.9 416.6,280.1 417.9,275.9 419.2,276.8 420.5,279.3 421.8,281.1 423.1,282.7 424.4,280.1 425.7,275.9 427.0,278.8 428.3,281.4 429.6,280.4 430.9,281.0 432.2,282.0 433.5,284.3 434.8,281.5 436.1,277.8 437.4,277.2 438.7,277.6 440.0,279.2 441.3,279.3 442.6,278.3 443.9,280.1 445.2,280.1 446.5,281.5 447.8,279.0 449.1,282.3 450.4,280.2 451.7,279.3 453.0,279.2 454.3,279.4 455.6,281.8 456.9,282.8 458.2,282.9 459.5,282.9 460.8,284.4 462.1,283.6 463.4,283.8 464.7,284.5 466.0,282.3 467.3,283.8 468.6,282.4 469.9,279.7 471.2,278.5 472.5,281.5 473.8,280.4 475.1,281.6 476.4,277.8 477.7,278.1 479.0,279.2 480.3,282.0 481.6,283.0 482.9,281.8 484.2,282.5 485.5,283.1 486.8,281.5 488.1,284.8 489.4,286.6 490.6,286.0 491.9,286.0 493.2,283.9 494.5,284.8 495.8,283.7 497.1,286.6 498.4,281.2 499.7,281.5 501.0,284.0 502.3,282.5 503.6,280.3" fill="none" stroke="#ababab" stroke-width="1.5" stroke-linejoin="round"/>
<polyline points="328.2,286.6 329.5,286.6 330.8,286.6 332.1,286.6 333.4,286.6 334.7,286.6 336.0,286.6 337.3,285.2 338.6,284.3 339.9,285.3 341.2,282.7 342.5,283.7 343.8,284.7 345.1,284.4 346.4,284.1 347.7,283.9 349.0,282.3 350.3,281.0 351.6,283.3 352.9,283.4 354.2,280.4 355.5,281.5 356.8,281.4 358.1,280.0 359.4,277.7 360.7,279.4 362.0,279.0 363.3,277.0 364.6,276.8 365.9,279.9 367.2,278.9 368.5,274.1 369.8,271.0 371.1,276.2 372.4,275.3 373.7,278.9 375.0,277.0 376.3,272.7 377.6,273.5 378.9,274.6 380.2,276.8 381.5,276.7 382.8,281.3 384.1,276.2 385.4,274.8 386.7,272.5 388.0,274.1 389.3,275.4 390.6,274.0 391.9,271.9 393.2,271.7 394.5,274.7 395.8,272.6 397.1,271.3 398.4,271.3 399.7,267.8 401.0,267.1 402.3,264.7 403.6,267.3 404.9,263.5 406.2,267.1 407.5,266.9 408.8,263.5 410.1,266.8 411.4,270.5 412.7,268.5 414.0,269.1 415.3,267.5 416.6,266.9 417.9,265.5 419.2,266.6 420.5,264.2 421.8,263.1 423.1,263.4 424.4,263.1 425.7,266.4 427.0,265.0 428.3,269.5 429.6,265.9 430.9,263.6 432.2,264.5 433.5,261.4 434.8,262.8 436.1,261.9 437.4,262.4 438.7,259.6 440.0,260.0 441.3,258.3 442.6,258.8 443.9,263.8 445.2,259.1 446.5,262.5 447.8,264.1 449.1,259.7 450.4,260.4 451.7,256.7 453.0,255.4 454.3,260.4 455.6,264.6 456.9,257.6 458.2,257.9 459.5,257.7 460.8,260.9 462.1,259.6 463.4,256.1 464.7,251.1 466.0,258.7 467.3,252.0 468.6,255.4 469.9,257.7 471.2,252.1 472.5,254.7 473.8,254.1 475.1,251.0 476.4,248.2 477.7,248.5 479.0,253.8 480.3,253.0 481.6,250.4 482.9,254.3 484.2,251.2 485.5,246.4 486.8,246.3 488.1,242.0 489.4,242.6 490.6,246.3 491.9,239.9 493.2,248.0 494.5,244.7 495.8,240.2 497.1,245.0 498.4,239.1 499.7,240.8 501.0,241.0 502.3,243.4 503.6,240.6" fill="none" stroke="#e83c3c" stroke-width="1.4" stroke-linejoin="round"/>
<polyline points="328.2,286.6 329.5,286.6 330.8,286.6 332.1,286.6 333.4,286.6 334.7,286.6 336.0,286.6 337.3,286.6 338.6,286.6 339.9,286.6 341.2,286.1 342.5,286.0 343.8,286.6 345.1,286.6 346.4,286.6 347.7,286.6 349.0,285.1 350.3,286.6 351.6,286.6 352.9,286.6 354.2,286.1 355.5,286.6 356.8,286.6 358.1,286.0 359.4,283.1 360.7,284.8 362.0,285.4 363.3,285.8 364.6,286.3 365.9,286.6 367.2,286.6 368.5,282.1 369.8,278.7 371.1,284.4 372.4,285.4 373.7,283.5 375.0,281.5 376.3,282.2 377.6,284.0 378.9,283.2 380.2,283.4 381.5,284.8 382.8,286.6 384.1,284.7 385.4,283.0 386.7,281.7 388.0,283.9 389.3,286.2 390.6,283.2 391.9,280.3 393.2,281.8 394.5,284.3 395.8,282.1 397.1,280.4 398.4,279.0 399.7,281.0 401.0,282.0 402.3,281.1 403.6,279.8 404.9,274.7 406.2,281.5 407.5,280.8 408.8,276.4 410.1,278.6 411.4,278.3 412.7,276.2 414.0,282.1 415.3,278.4 416.6,279.7 417.9,278.6 419.2,280.2 420.5,273.8 421.8,277.4 423.1,278.2 424.4,276.8 425.7,278.4 427.0,276.3 428.3,278.3 429.6,279.7 430.9,274.3 432.2,275.1 433.5,275.8 434.8,279.1 436.1,277.7 437.4,278.4 438.7,275.0 440.0,275.3 441.3,274.4 442.6,275.5 443.9,277.0 445.2,277.4 446.5,277.4 447.8,280.9 449.1,276.4 450.4,274.7 451.7,273.1 453.0,269.2 454.3,277.5 455.6,280.0 456.9,277.5 458.2,273.9 459.5,274.9 460.8,275.7 462.1,275.0 463.4,271.5 464.7,270.9 466.0,273.7 467.3,267.8 468.6,273.1 469.9,273.4 471.2,265.6 472.5,272.3 473.8,274.8 475.1,270.7 476.4,268.5 477.7,268.1 479.0,268.3 480.3,272.6 481.6,269.4 482.9,275.0 484.2,272.8 485.5,265.3 486.8,267.6 488.1,262.8 489.4,262.9 490.6,265.3 491.9,264.3 493.2,269.8 494.5,263.6 495.8,261.5 497.1,266.6 498.4,261.6 499.7,263.1 501.0,258.9 502.3,263.0 503.6,259.3" fill="none" stroke="#e83c3c" stroke-width="1.4" stroke-linejoin="round"/>
<polyline points="328.2,286.6 329.5,286.6 330.8,286.6 332.1,286.6 333.4,286.6 334.7,286.6 336.0,286.6 337.3,286.3 338.6,285.9 339.9,286.6 341.2,285.5 342.5,285.5 343.8,286.1 345.1,286.0 346.4,285.4 347.7,285.4 349.0,282.8 350.3,282.8 351.6,285.2 352.9,284.8 354.2,284.7 355.5,282.7 356.8,284.6 358.1,283.3 359.4,281.5 360.7,280.5 362.0,281.0 363.3,279.3 364.6,284.0 365.9,285.7 367.2,284.6 368.5,277.9 369.8,277.5 371.1,279.4 372.4,278.7 373.7,278.8 375.0,279.4 376.3,275.9 377.6,276.5 378.9,277.5 380.2,279.8 381.5,283.5 382.8,285.0 384.1,279.1 385.4,280.7 386.7,280.4 388.0,277.9 389.3,279.0 390.6,280.6 391.9,278.0 393.2,278.7 394.5,278.3 395.8,277.9 397.1,272.5 398.4,275.7 399.7,272.7 401.0,275.1 402.3,272.7 403.6,275.5 404.9,268.9 406.2,274.4 407.5,275.2 408.8,269.7 410.1,271.5 411.4,272.8 412.7,271.6 414.0,278.2 415.3,270.8 416.6,271.5 417.9,271.9 419.2,271.3 420.5,268.1 421.8,268.8 423.1,273.0 424.4,271.4 425.7,269.6 427.0,269.8 428.3,272.6 429.6,273.9 430.9,270.3 432.2,269.0 433.5,268.0 434.8,270.6 436.1,272.2 437.4,272.3 438.7,269.6 440.0,266.4 441.3,265.1 442.6,266.5 443.9,270.5 445.2,269.1 446.5,269.9 447.8,274.1 449.1,268.7 450.4,267.9 451.7,266.1 453.0,262.6 454.3,268.7 455.6,267.7 456.9,264.4 458.2,265.0 459.5,265.0 460.8,270.1 462.1,264.5 463.4,265.1 464.7,263.6 466.0,265.1 467.3,262.7 468.6,265.5 469.9,267.5 471.2,262.5 472.5,267.6 473.8,265.1 475.1,259.9 476.4,257.5 477.7,259.9 479.0,262.2 480.3,264.1 481.6,258.1 482.9,262.1 484.2,262.5 485.5,255.7 486.8,257.0 488.1,253.1 489.4,255.8 490.6,257.8 491.9,254.4 493.2,261.6 494.5,252.5 495.8,249.8 497.1,254.9 498.4,251.1 499.7,251.0 501.0,251.0 502.3,253.3 503.6,249.9" fill="none" stroke="#9a0e0e" stroke-width="1.8" stroke-linejoin="round"/>
<polyline points="328.2,286.6 329.5,286.3 330.8,286.6 332.1,286.6 333.4,286.0 334.7,286.2 336.0,286.1 337.3,286.6 338.6,286.0 339.9,284.8 341.2,283.5 342.5,284.5 343.8,284.0 345.1,283.6 346.4,280.8 347.7,280.3 349.0,281.7 350.3,278.0 351.6,278.8 352.9,278.7 354.2,277.6 355.5,275.9 356.8,277.6 358.1,273.4 359.4,276.0 360.7,270.7 362.0,270.9 363.3,272.4 364.6,274.8 365.9,269.6 367.2,268.7 368.5,268.1 369.8,266.7 371.1,267.7 372.4,265.2 373.7,264.6 375.0,266.9 376.3,265.6 377.6,255.6 378.9,261.3 380.2,262.8 381.5,260.8 382.8,263.0 384.1,254.7 385.4,261.6 386.7,263.1 388.0,259.5 389.3,259.4 390.6,253.5 391.9,255.4 393.2,251.0 394.5,256.4 395.8,251.0 397.1,248.9 398.4,247.0 399.7,248.0 401.0,245.0 402.3,244.3 403.6,246.9 404.9,243.6 406.2,239.3 407.5,242.9 408.8,248.9 410.1,246.7 411.4,246.3 412.7,235.4 414.0,234.9 415.3,232.9 416.6,231.0 417.9,234.0 419.2,240.4 420.5,232.2 421.8,235.5 423.1,235.7 424.4,232.9 425.7,234.3 427.0,223.3 428.3,219.6 429.6,225.8 430.9,222.5 432.2,228.0 433.5,222.2 434.8,225.8 436.1,227.8 437.4,230.1 438.7,222.5 440.0,219.8 441.3,219.2 442.6,219.6 443.9,221.8 445.2,212.0 446.5,215.3 447.8,218.4 449.1,217.2 450.4,216.4 451.7,210.7 453.0,211.8 454.3,208.1 455.6,206.5 456.9,210.9 458.2,206.8 459.5,207.2 460.8,209.4 462.1,206.4 463.4,203.2 464.7,205.6 466.0,200.8 467.3,209.7 468.6,205.7 469.9,202.8 471.2,209.9 472.5,203.9 473.8,199.6 475.1,201.3 476.4,203.9 477.7,202.9 479.0,199.6 480.3,197.9 481.6,198.8 482.9,202.2 484.2,199.4 485.5,196.4 486.8,197.2 488.1,202.8 489.4,203.7 490.6,198.4 491.9,195.0 493.2,192.9 494.5,198.2 495.8,198.3 497.1,193.4 498.4,198.9 499.7,195.5 501.0,191.7 502.3,189.5 503.6,186.9" fill="none" stroke="#30c030" stroke-width="1.5" stroke-linejoin="round"/>
<polyline points="328.2,286.6 329.5,285.9 330.8,286.6 332.1,286.6 333.4,286.6 334.7,286.6 336.0,286.6 337.3,286.6 338.6,286.6 339.9,286.6 341.2,285.1 342.5,285.8 343.8,286.6 345.1,286.4 346.4,284.2 347.7,283.1 349.0,285.3 350.3,283.4 351.6,283.4 352.9,284.6 354.2,283.5 355.5,279.6 356.8,281.0 358.1,279.1 359.4,280.3 360.7,277.5 362.0,277.7 363.3,275.7 364.6,277.7 365.9,275.8 367.2,275.1 368.5,275.3 369.8,273.0 371.1,274.3 372.4,274.6 373.7,272.5 375.0,273.4 376.3,271.6 377.6,263.8 378.9,268.5 380.2,270.9 381.5,265.0 382.8,268.3 384.1,262.2 385.4,264.1 386.7,265.5 388.0,262.6 389.3,261.9 390.6,258.8 391.9,260.5 393.2,258.1 394.5,266.0 395.8,263.0 397.1,256.3 398.4,255.1 399.7,254.8 401.0,256.6 402.3,253.0 403.6,253.3 404.9,252.8 406.2,250.0 407.5,253.2 408.8,258.1 410.1,253.5 411.4,253.2 412.7,246.2 414.0,247.8 415.3,244.5 416.6,240.4 417.9,242.4 419.2,245.8 420.5,240.6 421.8,246.1 423.1,244.4 424.4,246.3 425.7,248.6 427.0,240.1 428.3,235.4 429.6,238.5 430.9,241.0 432.2,244.4 433.5,234.6 434.8,236.7 436.1,233.2 437.4,238.7 438.7,235.8 440.0,239.1 441.3,235.4 442.6,236.4 443.9,237.8 445.2,229.8 446.5,230.7 447.8,236.5 449.1,235.1 450.4,235.9 451.7,232.7 453.0,228.9 454.3,232.2 455.6,227.9 456.9,233.8 458.2,226.4 459.5,230.3 460.8,226.2 462.1,224.5 463.4,225.6 464.7,228.7 466.0,221.8 467.3,229.4 468.6,226.4 469.9,227.4 471.2,228.6 472.5,229.2 473.8,223.9 475.1,228.1 476.4,231.0 477.7,227.0 479.0,225.2 480.3,218.4 481.6,222.8 482.9,226.8 484.2,221.1 485.5,221.6 486.8,220.4 488.1,228.3 489.4,229.3 490.6,226.4 491.9,224.1 493.2,221.5 494.5,225.9 495.8,224.3 497.1,221.9 498.4,229.8 499.7,227.8 501.0,224.2 502.3,220.5 503.6,220.4" fill="none" stroke="#30c030" stroke-width="1.5" stroke-linejoin="round"/>
<polyline points="328.2,286.6 329.5,286.0 330.8,286.6 332.1,286.6 333.4,286.4 334.7,286.4 336.0,286.3 337.3,286.6 338.6,286.6 339.9,285.8 341.2,283.8 342.5,284.7 343.8,286.0 345.1,284.8 346.4,283.4 347.7,279.8 349.0,281.8 350.3,279.5 351.6,279.5 352.9,280.0 354.2,281.0 355.5,280.0 356.8,280.4 358.1,277.6 359.4,278.6 360.7,275.2 362.0,274.6 363.3,273.3 364.6,277.4 365.9,273.4 367.2,272.0 368.5,272.2 369.8,269.8 371.1,271.7 372.4,272.7 373.7,270.9 375.0,270.8 376.3,272.2 377.6,263.2 378.9,264.3 380.2,265.8 381.5,262.0 382.8,266.1 384.1,261.6 385.4,262.2 386.7,263.5 388.0,260.1 389.3,262.8 390.6,257.0 391.9,256.9 393.2,254.1 394.5,258.0 395.8,256.5 397.1,255.4 398.4,252.0 399.7,251.5 401.0,248.0 402.3,246.8 403.6,246.4 404.9,246.5 406.2,244.6 407.5,246.7 408.8,253.4 410.1,248.9 411.4,243.7 412.7,240.9 414.0,241.6 415.3,240.1 416.6,237.4 417.9,237.7 419.2,242.1 420.5,235.1 421.8,242.3 423.1,240.8 424.4,237.5 425.7,240.4 427.0,230.8 428.3,227.6 429.6,231.9 430.9,234.1 432.2,237.5 433.5,231.0 434.8,227.2 436.1,234.9 437.4,234.9 438.7,227.0 440.0,227.6 441.3,229.0 442.6,226.9 443.9,226.6 445.2,220.9 446.5,219.6 447.8,226.4 449.1,228.1 450.4,225.8 451.7,220.3 453.0,220.6 454.3,220.7 455.6,217.8 456.9,221.9 458.2,216.4 459.5,218.4 460.8,219.3 462.1,218.8 463.4,215.8 464.7,215.7 466.0,211.1 467.3,220.4 468.6,217.5 469.9,215.6 471.2,219.1 472.5,215.1 473.8,211.1 475.1,215.3 476.4,216.5 477.7,213.6 479.0,209.2 480.3,207.3 481.6,205.1 482.9,211.7 484.2,209.2 485.5,207.8 486.8,206.1 488.1,213.9 489.4,214.3 490.6,211.6 491.9,208.9 493.2,209.3 494.5,213.4 495.8,213.1 497.1,211.1 498.4,218.6 499.7,214.7 501.0,209.3 502.3,206.2 503.6,203.4" fill="none" stroke="#13801a" stroke-width="1.9" stroke-linejoin="round"/>
<line x1="337.50" y1="177.50" x2="350.50" y2="177.50" stroke="#1e9a1e" stroke-width="1.4" />
<text class="b" x="357.00" y="180.40" font-size="7.9" textLength="50.50" lengthAdjust="spacingAndGlyphs">CRP (+B2G1)</text>
<line x1="337.50" y1="187.80" x2="350.50" y2="187.80" stroke="#a01818" stroke-width="1.4" />
<text class="b" x="357.00" y="190.70" font-size="7.9" textLength="96.00" lengthAdjust="spacingAndGlyphs">CRP (+B2G1+Rotenone)</text>
<line x1="337.50" y1="198.80" x2="350.50" y2="198.80" stroke="#000" stroke-width="1.4" />
<text class="b" x="357.00" y="201.70" font-size="7.9" textLength="50.50" lengthAdjust="spacingAndGlyphs">BSA (+B2G1)</text>
<line x1="337.50" y1="209.60" x2="350.50" y2="209.60" stroke="#aaa" stroke-width="1.4" />
<text class="b" x="357.00" y="212.50" font-size="7.9" textLength="96.00" lengthAdjust="spacingAndGlyphs">BSA (+B2G1+Rotenone)</text>
<line x1="508.00" y1="207.00" x2="508.00" y2="250.70" stroke="#000" stroke-width="1.3" />
<text class="b" x="508.73" y="229.50" font-size="12.5" text-anchor="middle" transform="rotate(90 508.73 229.50)">*</text>
<text class="b" x="281.40" y="339.90" font-size="17.5">G</text>
<line x1="328.00" y1="323.00" x2="328.00" y2="443.60" stroke="#000" stroke-width="1.6" />
<line x1="327.30" y1="442.90" x2="507.50" y2="442.90" stroke="#000" stroke-width="1.6" />
<line x1="323.70" y1="442.60" x2="328.00" y2="442.60" stroke="#000" stroke-width="1.6" />
<text class="b" x="318.33" y="445.64" font-size="8.8" textLength="4.67" lengthAdjust="spacingAndGlyphs">0</text>
<line x1="323.70" y1="403.15" x2="328.00" y2="403.15" stroke="#000" stroke-width="1.6" />
<text class="b" x="308.99" y="406.19" font-size="8.8" textLength="14.01" lengthAdjust="spacingAndGlyphs">100</text>
<line x1="323.70" y1="363.70" x2="328.00" y2="363.70" stroke="#000" stroke-width="1.6" />
<text class="b" x="308.99" y="366.74" font-size="8.8" textLength="14.01" lengthAdjust="spacingAndGlyphs">200</text>
<line x1="323.70" y1="324.25" x2="328.00" y2="324.25" stroke="#000" stroke-width="1.6" />
<text class="b" x="308.99" y="327.29" font-size="8.8" textLength="14.01" lengthAdjust="spacingAndGlyphs">300</text>
<line x1="328.00" y1="442.90" x2="328.00" y2="445.90" stroke="#000" stroke-width="1.6" />
<text class="b" x="325.80" y="455.30" font-size="8.6" textLength="4.40" lengthAdjust="spacingAndGlyphs">0</text>
<line x1="372.25" y1="442.90" x2="372.25" y2="445.90" stroke="#000" stroke-width="1.6" />
<text class="b" x="365.65" y="455.30" font-size="8.6" textLength="13.20" lengthAdjust="spacingAndGlyphs">300</text>
<line x1="416.50" y1="442.90" x2="416.50" y2="445.90" stroke="#000" stroke-width="1.6" />
<text class="b" x="409.90" y="455.30" font-size="8.6" textLength="13.20" lengthAdjust="spacingAndGlyphs">600</text>
<line x1="460.75" y1="442.90" x2="460.75" y2="445.90" stroke="#000" stroke-width="1.6" />
<text class="b" x="454.15" y="455.30" font-size="8.6" textLength="13.20" lengthAdjust="spacingAndGlyphs">900</text>
<line x1="505.00" y1="442.90" x2="505.00" y2="445.90" stroke="#000" stroke-width="1.6" />
<text class="b" x="496.20" y="455.30" font-size="8.6" textLength="17.60" lengthAdjust="spacingAndGlyphs">1200</text>
<text class="b" x="398.80" y="469.90" font-size="8.8" textLength="36.00" lengthAdjust="spacingAndGlyphs">Time (s)</text>
<text class="b" x="305.20" y="389.50" font-size="9.4" textLength="13.00" lengthAdjust="spacingAndGlyphs" transform="rotate(-90 305.20 389.50)">RU</text>
<polyline points="328.0,442.6 329.3,442.0 330.7,442.6 332.0,442.6 333.3,442.6 334.6,442.6 336.0,442.2 337.3,439.7 338.6,441.6 339.9,442.3 341.3,440.7 342.6,440.4 343.9,440.5 345.3,442.0 346.6,441.0 347.9,439.6 349.2,442.1 350.6,441.4 351.9,442.6 353.2,442.6 354.6,442.6 355.9,441.1 357.2,441.8 358.5,439.6 359.9,439.0 361.2,439.3 362.5,442.6 363.8,440.7 365.2,439.3 366.5,438.5 367.8,440.6 369.2,439.6 370.5,439.9 371.8,439.7 373.1,436.7 374.5,438.5 375.8,437.8 377.1,436.1 378.4,437.7 379.8,437.3 381.1,436.8 382.4,436.6 383.8,438.4 385.1,436.8 386.4,434.3 387.7,437.8 389.1,435.2 390.4,435.4 391.7,436.5 393.0,432.7 394.4,433.4 395.7,436.4 397.0,435.3 398.4,434.1 399.7,434.8 401.0,433.6 402.3,434.2 403.7,433.2 405.0,431.7 406.3,434.3 407.6,433.6 409.0,434.3 410.3,433.5 411.6,435.3 413.0,435.0 414.3,434.3 415.6,432.5 416.9,431.6 418.3,435.1 419.6,435.4 420.9,433.3 422.3,436.7 423.6,435.4 424.9,434.5 426.2,432.2 427.6,432.4 428.9,434.0 430.2,434.6 431.5,434.6 432.9,432.0 434.2,434.1 435.5,434.6 436.9,433.8 438.2,434.3 439.5,434.6 440.8,436.0 442.2,434.9 443.5,435.2 444.8,432.9 446.1,433.0 447.5,434.1 448.8,433.4 450.1,434.7 451.5,433.0 452.8,434.1 454.1,433.6 455.4,436.3 456.8,434.6 458.1,437.2 459.4,438.4 460.8,436.0 462.1,436.1 463.4,434.4 464.7,430.6 466.1,434.0 467.4,434.6 468.7,433.4 470.0,432.5 471.4,433.1 472.7,433.3 474.0,431.8 475.4,431.5 476.7,433.7 478.0,432.8 479.3,432.2 480.7,433.6 482.0,431.9 483.3,432.9 484.6,430.4 486.0,430.7 487.3,430.8 488.6,431.8 490.0,431.2 491.3,433.8 492.6,433.1 493.9,430.6 495.3,433.4 496.6,429.7 497.9,432.4 499.2,429.3 500.6,430.7 501.9,428.5 503.2,428.7 504.6,431.2 505.9,427.6" fill="none" stroke="#8a8a8a" stroke-width="1.9" stroke-linejoin="round"/>
<polyline points="328.0,442.6 329.3,442.6 330.7,442.6 332.0,442.6 333.3,442.6 334.6,441.6 336.0,442.6 337.3,442.6 338.6,442.6 339.9,442.6 341.3,442.6 342.6,441.4 343.9,442.3 345.3,441.1 346.6,442.0 347.9,442.6 349.2,442.6 350.6,442.6 351.9,442.5 353.2,442.6 354.6,442.6 355.9,442.6 357.2,442.6 358.5,440.6 359.9,442.5 361.2,442.6 362.5,442.1 363.8,440.4 365.2,442.6 366.5,442.6 367.8,442.6 369.2,442.6 370.5,441.8 371.8,441.9 373.1,441.9 374.5,442.6 375.8,441.6 377.1,442.5 378.4,442.2 379.8,442.6 381.1,442.6 382.4,440.8 383.8,442.1 385.1,441.5 386.4,441.7 387.7,442.3 389.1,442.5 390.4,441.2 391.7,441.9 393.0,441.9 394.4,441.7 395.7,440.2 397.0,440.4 398.4,440.7 399.7,442.0 401.0,442.6 402.3,440.9 403.7,440.2 405.0,441.3 406.3,440.7 407.6,440.3 409.0,440.1 410.3,439.9 411.6,441.5 413.0,439.5 414.3,442.3 415.6,440.5 416.9,440.4 418.3,439.9 419.6,438.5 420.9,438.5 422.3,441.7 423.6,442.6 424.9,440.7 426.2,442.1 427.6,441.3 428.9,440.0 430.2,442.6 431.5,442.6 432.9,441.4 434.2,440.9 435.5,441.1 436.9,440.7 438.2,441.7 439.5,442.6 440.8,440.9 442.2,441.2 443.5,441.9 444.8,439.2 446.1,438.9 447.5,438.0 448.8,439.2 450.1,439.0 451.5,439.1 452.8,438.7 454.1,437.1 455.4,437.6 456.8,436.1 458.1,435.5 459.4,433.1 460.8,436.3 462.1,434.4 463.4,434.8 464.7,434.7 466.1,436.2 467.4,435.3 468.7,433.4 470.0,433.7 471.4,433.4 472.7,433.6 474.0,431.7 475.4,432.4 476.7,435.0 478.0,433.7 479.3,434.6 480.7,436.2 482.0,433.2 483.3,429.8 484.6,430.1 486.0,431.4 487.3,431.3 488.6,428.5 490.0,428.6 491.3,428.5 492.6,428.4 493.9,428.0 495.3,426.7 496.6,426.4 497.9,426.5 499.2,427.8 500.6,426.1 501.9,426.8 503.2,424.6 504.6,426.5 505.9,425.5" fill="none" stroke="#111" stroke-width="1.8" stroke-linejoin="round"/>
<polyline points="328.0,442.5 329.3,442.7 330.7,442.3 332.0,442.5 333.3,442.8 334.6,442.4 336.0,442.3 337.3,442.4 338.6,442.0 339.9,441.3 341.3,440.3 342.6,439.4 343.9,438.9 345.3,438.6 346.6,437.9 347.9,436.6 349.2,436.4 350.6,435.1 351.9,435.5 353.2,435.3 354.6,433.9 355.9,432.1 357.2,431.8 358.5,432.1 359.9,431.5 361.2,429.9 362.5,429.4 363.8,429.0 365.2,429.5 366.5,429.0 367.8,426.3 369.2,425.5 370.5,424.9 371.8,426.9 373.1,426.0 374.5,422.5 375.8,422.4 377.1,421.4 378.4,423.3 379.8,422.5 381.1,420.3 382.4,418.4 383.8,418.7 385.1,420.4 386.4,419.1 387.7,416.4 389.1,416.8 390.4,415.5 391.7,417.9 393.0,415.4 394.4,413.7 395.7,411.6 397.0,410.9 398.4,413.3 399.7,414.0 401.0,409.7 402.3,409.7 403.7,410.4 405.0,410.0 406.3,407.1 407.6,407.1 409.0,406.8 410.3,406.7 411.6,407.2 413.0,406.9 414.3,404.7 415.6,402.1 416.9,402.2 418.3,402.8 419.6,400.9 420.9,399.7 422.3,399.2 423.6,397.7 424.9,398.8 426.2,399.5 427.6,397.4 428.9,395.8 430.2,393.7 431.5,395.2 432.9,395.2 434.2,394.1 435.5,393.6 436.9,392.1 438.2,393.8 439.5,391.8 440.8,388.7 442.2,389.4 443.5,388.9 444.8,389.6 446.1,388.2 447.5,386.9 448.8,383.7 450.1,384.4 451.5,385.4 452.8,387.1 454.1,382.8 455.4,384.3 456.8,383.3 458.1,381.6 459.4,380.7 460.8,379.2 462.1,380.3 463.4,379.4 464.7,380.2 466.1,378.2 467.4,373.8 468.7,374.5 470.0,375.5 471.4,376.9 472.7,375.3 474.0,371.9 475.4,371.5 476.7,370.9 478.0,373.6 479.3,371.0 480.7,368.2 482.0,367.5 483.3,367.8 484.6,369.0 486.0,368.0 487.3,365.8 488.6,365.0 490.0,365.3 491.3,367.3 492.6,365.0 493.9,362.3 495.3,361.5 496.6,359.7 497.9,363.3 499.2,362.9 500.6,358.8 501.9,358.3 503.2,357.9 504.6,358.0 505.9,358.7" fill="none" stroke="#30c030" stroke-width="1.6" stroke-linejoin="round"/>
<polyline points="328.0,442.5 329.3,442.6 330.7,442.4 332.0,442.6 333.3,442.7 334.6,442.5 336.0,442.4 337.3,442.7 338.6,442.5 339.9,442.4 341.3,441.5 342.6,441.5 343.9,441.1 345.3,441.5 346.6,440.7 347.9,440.3 349.2,439.8 350.6,439.1 351.9,440.2 353.2,440.0 354.6,439.6 355.9,438.2 357.2,437.6 358.5,438.4 359.9,438.3 361.2,437.7 362.5,437.0 363.8,436.6 365.2,437.7 366.5,437.5 367.8,435.7 369.2,435.1 370.5,435.5 371.8,438.1 373.1,437.1 374.5,434.4 375.8,434.6 377.1,434.4 378.4,435.4 379.8,436.4 381.1,433.5 382.4,431.6 383.8,432.1 385.1,434.6 386.4,434.6 387.7,432.6 389.1,433.5 390.4,431.9 391.7,433.9 393.0,432.4 394.4,430.8 395.7,430.4 397.0,429.0 398.4,431.7 399.7,432.0 401.0,428.9 402.3,428.9 403.7,429.9 405.0,430.4 406.3,429.3 407.6,429.0 409.0,428.1 410.3,428.7 411.6,429.2 413.0,430.8 414.3,428.0 415.6,425.6 416.9,426.8 418.3,427.8 419.6,425.9 420.9,423.6 422.3,423.2 423.6,422.1 424.9,425.1 426.2,424.9 427.6,424.9 428.9,422.5 430.2,420.1 431.5,421.8 432.9,422.4 434.2,420.4 435.5,420.2 436.9,419.1 438.2,420.8 439.5,420.7 440.8,418.0 442.2,417.6 443.5,416.4 444.8,418.7 446.1,418.6 447.5,415.6 448.8,413.4 450.1,414.4 451.5,416.0 452.8,418.2 454.1,414.2 455.4,415.4 456.8,414.4 458.1,413.9 459.4,414.6 460.8,413.0 462.1,413.6 463.4,412.9 464.7,415.3 466.1,412.9 467.4,409.1 468.7,410.3 470.0,411.6 471.4,413.4 472.7,412.9 474.0,410.0 475.4,411.5 476.7,410.5 478.0,412.7 479.3,411.2 480.7,408.0 482.0,407.8 483.3,409.5 484.6,410.4 486.0,410.7 487.3,408.2 488.6,408.6 490.0,409.3 491.3,410.6 492.6,407.9 493.9,406.1 495.3,406.6 496.6,405.8 497.9,409.1 499.2,409.3 500.6,406.7 501.9,405.7 503.2,405.8 504.6,407.2 505.9,408.0" fill="none" stroke="#30c030" stroke-width="1.6" stroke-linejoin="round"/>
<polyline points="328.0,442.5 329.3,442.6 330.7,442.4 332.0,442.6 333.3,442.7 334.6,442.1 336.0,441.8 337.3,441.6 338.6,441.4 339.9,440.9 341.3,440.1 342.6,439.7 343.9,439.2 345.3,439.4 346.6,438.6 347.9,437.7 349.2,437.2 350.6,436.6 351.9,437.6 353.2,437.1 354.6,435.7 355.9,434.3 357.2,434.1 358.5,434.6 359.9,433.9 361.2,433.1 362.5,432.8 363.8,432.2 365.2,433.2 366.5,432.6 367.8,430.3 369.2,429.5 370.5,429.4 371.8,431.2 373.1,431.0 374.5,428.5 375.8,427.7 377.1,427.8 378.4,429.3 379.8,429.4 381.1,426.9 382.4,426.2 383.8,425.8 385.1,427.8 386.4,427.3 387.7,424.6 389.1,425.5 390.4,425.1 391.7,425.6 393.0,423.9 394.4,422.2 395.7,420.4 397.0,419.8 398.4,423.8 399.7,423.6 401.0,420.7 402.3,420.0 403.7,420.1 405.0,421.6 406.3,418.7 407.6,418.5 409.0,417.7 410.3,418.1 411.6,418.7 413.0,419.2 414.3,416.9 415.6,414.5 416.9,415.9 418.3,415.4 419.6,413.2 420.9,411.3 422.3,410.9 423.6,409.5 424.9,413.3 426.2,412.6 427.6,411.3 428.9,409.8 430.2,408.0 431.5,409.6 432.9,410.8 434.2,408.4 435.5,408.0 436.9,406.6 438.2,407.1 439.5,407.1 440.8,404.6 442.2,404.2 443.5,403.4 444.8,405.5 446.1,404.9 447.5,401.3 448.8,399.8 450.1,400.1 451.5,401.6 452.8,403.6 454.1,399.4 455.4,400.8 456.8,399.2 458.1,400.3 459.4,399.2 460.8,397.2 462.1,397.6 463.4,396.2 464.7,397.5 466.1,397.2 467.4,392.3 468.7,393.5 470.0,394.4 471.4,396.0 472.7,395.3 474.0,393.3 475.4,393.0 476.7,392.0 478.0,394.2 479.3,391.4 480.7,388.5 482.0,387.4 483.3,388.9 484.6,390.6 486.0,390.4 487.3,388.2 488.6,387.9 490.0,387.5 491.3,389.7 492.6,388.1 493.9,384.9 495.3,384.3 496.6,383.0 497.9,386.7 499.2,385.7 500.6,382.5 501.9,381.2 503.2,381.5 504.6,382.1 505.9,382.1" fill="none" stroke="#13801a" stroke-width="2.0" stroke-linejoin="round"/>
<polyline points="328.0,442.5 329.3,442.4 330.7,442.3 332.0,441.9 333.3,441.4 334.6,440.3 336.0,439.6 337.3,439.1 338.6,438.9 339.9,438.1 341.3,436.9 342.6,436.1 343.9,435.5 345.3,435.5 346.6,434.3 347.9,432.3 349.2,430.9 350.6,429.8 351.9,428.8 353.2,428.5 354.6,426.2 355.9,425.1 357.2,423.3 358.5,423.9 359.9,422.5 361.2,419.9 362.5,418.8 363.8,418.5 365.2,417.8 366.5,417.3 367.8,413.3 369.2,411.0 370.5,409.0 371.8,408.7 373.1,408.4 374.5,404.2 375.8,402.2 377.1,400.5 378.4,401.6 379.8,401.0 381.1,397.2 382.4,396.5 383.8,396.4 385.1,397.6 386.4,394.2 387.7,391.3 389.1,390.2 390.4,390.7 391.7,391.1 393.0,391.3 394.4,388.2 395.7,384.1 397.0,384.7 398.4,387.2 399.7,386.8 401.0,383.0 402.3,381.4 403.7,382.5 405.0,384.6 406.3,383.5 407.6,379.5 409.0,379.0 410.3,378.1 411.6,380.4 413.0,378.9 414.3,377.5 415.6,375.3 416.9,373.2 418.3,376.5 419.6,375.8 420.9,373.6 422.3,370.4 423.6,372.0 424.9,373.2 426.2,371.5 427.6,367.6 428.9,368.4 430.2,367.3 431.5,368.9 432.9,368.1 434.2,364.6 435.5,363.5 436.9,362.7 438.2,362.6 439.5,364.0 440.8,359.7 442.2,358.1 443.5,358.5 444.8,358.8 446.1,358.3 447.5,353.8 448.8,351.6 450.1,351.2 451.5,354.1 452.8,353.0 454.1,349.8 455.4,349.3 456.8,346.3 458.1,351.7 459.4,348.8 460.8,345.7 462.1,344.2 463.4,344.7 464.7,347.2 466.1,346.4 467.4,342.2 468.7,340.9 470.0,340.3 471.4,343.9 472.7,345.0 474.0,339.4 475.4,337.8 476.7,338.2 478.0,340.2 479.3,338.0 480.7,336.0 482.0,336.4 483.3,335.8 484.6,336.4 486.0,337.5 487.3,333.2 488.6,332.6 490.0,333.0 491.3,332.3 492.6,331.7 493.9,330.1 495.3,329.9 496.6,327.3 497.9,328.3 499.2,329.8 500.6,326.5 501.9,325.2 503.2,326.3 504.6,326.0 505.9,327.1" fill="none" stroke="#a81fe0" stroke-width="1.6" stroke-linejoin="round"/>
<polyline points="328.0,442.5 329.3,442.6 330.7,442.7 332.0,442.6 333.3,442.3 334.6,441.3 336.0,440.8 337.3,440.8 338.6,440.8 339.9,440.2 341.3,439.1 342.6,438.7 343.9,438.2 345.3,438.6 346.6,437.5 347.9,436.1 349.2,435.2 350.6,433.5 351.9,432.6 353.2,433.6 354.6,431.5 355.9,430.2 357.2,428.9 358.5,430.1 359.9,429.2 361.2,426.9 362.5,426.3 363.8,425.6 365.2,425.5 366.5,425.2 367.8,422.1 369.2,420.2 370.5,417.8 371.8,418.4 373.1,417.9 374.5,413.4 375.8,411.6 377.1,410.8 378.4,412.5 379.8,412.7 381.1,408.9 382.4,409.0 383.8,408.4 385.1,410.5 386.4,406.8 387.7,404.7 389.1,403.6 390.4,404.0 391.7,404.6 393.0,404.5 394.4,401.4 395.7,397.3 397.0,398.2 398.4,402.0 399.7,400.4 401.0,397.6 402.3,395.3 403.7,395.4 405.0,398.7 406.3,398.1 407.6,394.6 409.0,392.6 410.3,391.4 411.6,393.9 413.0,392.4 414.3,390.2 415.6,388.4 416.9,386.9 418.3,389.4 419.6,389.2 420.9,386.9 422.3,385.0 423.6,385.9 424.9,387.5 426.2,385.7 427.6,382.0 428.9,381.0 430.2,381.0 431.5,382.8 432.9,381.7 434.2,378.3 435.5,378.1 436.9,377.1 438.2,377.9 439.5,379.0 440.8,375.1 442.2,372.6 443.5,373.2 444.8,374.4 446.1,374.3 447.5,369.0 448.8,366.5 450.1,366.1 451.5,369.5 452.8,369.0 454.1,366.0 455.4,363.9 456.8,363.3 458.1,366.6 459.4,363.8 460.8,361.6 462.1,359.8 463.4,359.5 464.7,361.9 466.1,360.4 467.4,357.5 468.7,356.5 470.0,355.5 471.4,357.8 472.7,358.2 474.0,352.2 475.4,350.9 476.7,351.1 478.0,352.2 479.3,350.3 480.7,348.3 482.0,347.7 483.3,347.2 484.6,347.6 486.0,348.3 487.3,344.2 488.6,344.0 490.0,344.1 491.3,343.6 492.6,344.2 493.9,342.0 495.3,340.0 496.6,337.3 497.9,338.2 499.2,339.2 500.6,335.7 501.9,334.8 503.2,334.6 504.6,335.6 505.9,334.6" fill="none" stroke="#a81fe0" stroke-width="1.6" stroke-linejoin="round"/>
<polyline points="328.0,442.5 329.3,442.5 330.7,442.6 332.0,442.3 333.3,441.9 334.6,440.8 336.0,440.2 337.3,439.9 338.6,440.0 339.9,439.1 341.3,437.9 342.6,437.6 343.9,436.9 345.3,437.1 346.6,435.9 347.9,434.3 349.2,433.0 350.6,431.5 351.9,430.6 353.2,430.7 354.6,428.8 355.9,428.4 357.2,426.4 358.5,427.2 359.9,426.1 361.2,423.2 362.5,422.8 363.8,422.0 365.2,421.5 366.5,420.9 367.8,417.7 369.2,415.2 370.5,412.9 371.8,413.3 373.1,413.8 374.5,409.3 375.8,407.1 377.1,406.3 378.4,407.4 379.8,406.8 381.1,403.3 382.4,403.6 383.8,402.1 385.1,404.1 386.4,401.7 387.7,398.5 389.1,396.7 390.4,397.6 391.7,397.5 393.0,398.2 394.4,395.1 395.7,391.3 397.0,391.1 398.4,394.5 399.7,393.2 401.0,390.0 402.3,387.3 403.7,389.4 405.0,391.9 406.3,390.8 407.6,387.5 409.0,386.4 410.3,384.5 411.6,386.6 413.0,385.9 414.3,384.9 415.6,382.8 416.9,380.1 418.3,382.5 419.6,382.0 420.9,379.5 422.3,377.1 423.6,378.1 424.9,379.9 426.2,379.2 427.6,375.7 428.9,375.9 430.2,373.2 431.5,376.0 432.9,374.0 434.2,371.1 435.5,370.7 436.9,369.2 438.2,370.3 439.5,371.0 440.8,367.3 442.2,365.5 443.5,366.3 444.8,366.7 446.1,366.1 447.5,362.3 448.8,359.4 450.1,358.9 451.5,362.0 452.8,360.3 454.1,357.9 455.4,356.8 456.8,355.6 458.1,358.4 459.4,356.5 460.8,353.7 462.1,351.8 463.4,353.2 464.7,355.2 466.1,353.2 467.4,348.9 468.7,349.1 470.0,348.1 471.4,351.3 472.7,351.1 474.0,345.2 475.4,344.8 476.7,344.8 478.0,347.2 479.3,344.7 480.7,341.7 482.0,342.1 483.3,340.9 484.6,341.5 486.0,343.5 487.3,337.6 488.6,339.1 490.0,338.8 491.3,338.1 492.6,337.9 493.9,336.2 495.3,334.9 496.6,333.3 497.9,334.8 499.2,334.9 500.6,331.5 501.9,330.7 503.2,331.2 504.6,331.8 505.9,331.8" fill="none" stroke="#5e0c86" stroke-width="2.0" stroke-linejoin="round"/>
<line x1="332.50" y1="323.90" x2="346.30" y2="323.90" stroke="#1e9a1e" stroke-width="1.4" />
<text class="b" x="352.80" y="326.80" font-size="7.9" textLength="53.00" lengthAdjust="spacingAndGlyphs">CRP (+B2G1)</text>
<line x1="332.50" y1="334.50" x2="346.30" y2="334.50" stroke="#9020c0" stroke-width="1.4" />
<text class="b" x="352.80" y="337.40" font-size="7.9" textLength="70.00" lengthAdjust="spacingAndGlyphs">CRP (+B2G1+GO)</text>
<line x1="332.50" y1="347.00" x2="346.30" y2="347.00" stroke="#000" stroke-width="1.4" />
<text class="b" x="352.80" y="349.90" font-size="7.9" textLength="53.00" lengthAdjust="spacingAndGlyphs">BSA (+B2G1)</text>
<line x1="332.50" y1="358.30" x2="346.30" y2="358.30" stroke="#999" stroke-width="1.4" />
<text class="b" x="352.80" y="361.20" font-size="7.9" textLength="70.00" lengthAdjust="spacingAndGlyphs">BSA (+B2G1+GO)</text>
<line x1="511.00" y1="324.10" x2="511.00" y2="388.20" stroke="#000" stroke-width="1.3" />
<text class="b" x="511.83" y="358.80" font-size="12.5" text-anchor="middle" transform="rotate(90 511.83 358.80)">*</text>
<text class="b" x="281.40" y="493.20" font-size="17.5">H</text>
<line x1="329.90" y1="559.60" x2="329.90" y2="678.90" stroke="#000" stroke-width="1.6" />
<line x1="329.20" y1="678.20" x2="507.20" y2="678.20" stroke="#000" stroke-width="1.6" />
<line x1="323.90" y1="678.20" x2="329.90" y2="678.20" stroke="#000" stroke-width="1.6" />
<text class="b" x="318.32" y="680.96" font-size="8.0" textLength="4.38" lengthAdjust="spacingAndGlyphs">0</text>
<line x1="323.90" y1="656.85" x2="329.90" y2="656.85" stroke="#000" stroke-width="1.6" />
<text class="b" x="305.18" y="659.61" font-size="8.0" textLength="17.52" lengthAdjust="spacingAndGlyphs">2000</text>
<line x1="323.90" y1="635.50" x2="329.90" y2="635.50" stroke="#000" stroke-width="1.6" />
<text class="b" x="305.18" y="638.26" font-size="8.0" textLength="17.52" lengthAdjust="spacingAndGlyphs">4000</text>
<line x1="323.90" y1="614.15" x2="329.90" y2="614.15" stroke="#000" stroke-width="1.6" />
<text class="b" x="305.18" y="616.91" font-size="8.0" textLength="17.52" lengthAdjust="spacingAndGlyphs">6000</text>
<line x1="323.90" y1="592.80" x2="329.90" y2="592.80" stroke="#000" stroke-width="1.6" />
<text class="b" x="305.18" y="595.56" font-size="8.0" textLength="17.52" lengthAdjust="spacingAndGlyphs">8000</text>
<line x1="323.90" y1="571.45" x2="329.90" y2="571.45" stroke="#000" stroke-width="1.6" />
<text class="b" x="300.80" y="574.21" font-size="8.0" textLength="21.90" lengthAdjust="spacingAndGlyphs">10000</text>
<line x1="347.00" y1="678.20" x2="347.00" y2="681.00" stroke="#000" stroke-width="1.6" />
<line x1="382.00" y1="678.20" x2="382.00" y2="681.00" stroke="#000" stroke-width="1.6" />
<line x1="417.00" y1="678.20" x2="417.00" y2="681.00" stroke="#000" stroke-width="1.6" />
<line x1="451.90" y1="678.20" x2="451.90" y2="681.00" stroke="#000" stroke-width="1.6" />
<line x1="487.30" y1="678.20" x2="487.30" y2="681.00" stroke="#000" stroke-width="1.6" />
<rect x="336.05" y="648.96" width="10.30" height="29.24" fill="#fff" stroke="#000" stroke-width="1.3"/>
<rect x="347.00" y="604.01" width="13.40" height="74.19" fill="#000"/>
<line x1="341.20" y1="642.44" x2="341.20" y2="648.31" stroke="#000" stroke-width="1.2" />
<line x1="336.95" y1="642.44" x2="345.45" y2="642.44" stroke="#000" stroke-width="1.2" />
<line x1="353.70" y1="589.06" x2="353.70" y2="604.01" stroke="#000" stroke-width="1.2" />
<line x1="348.95" y1="589.06" x2="358.45" y2="589.06" stroke="#000" stroke-width="1.2" />
<rect x="371.05" y="642.56" width="10.30" height="35.64" fill="#fff" stroke="#000" stroke-width="1.3"/>
<rect x="382.00" y="567.18" width="13.40" height="111.02" fill="#000"/>
<line x1="376.20" y1="640.84" x2="376.20" y2="641.91" stroke="#000" stroke-width="1.2" />
<line x1="371.95" y1="640.84" x2="380.45" y2="640.84" stroke="#000" stroke-width="1.2" />
<line x1="388.70" y1="566.97" x2="388.70" y2="567.18" stroke="#000" stroke-width="1.2" />
<line x1="383.95" y1="566.97" x2="393.45" y2="566.97" stroke="#000" stroke-width="1.2" />
<rect x="406.05" y="648.43" width="10.30" height="29.77" fill="#fff" stroke="#000" stroke-width="1.3"/>
<rect x="417.00" y="600.81" width="13.40" height="77.39" fill="#000"/>
<line x1="411.20" y1="645.11" x2="411.20" y2="647.78" stroke="#000" stroke-width="1.2" />
<line x1="406.95" y1="645.11" x2="415.45" y2="645.11" stroke="#000" stroke-width="1.2" />
<line x1="423.70" y1="597.07" x2="423.70" y2="600.81" stroke="#000" stroke-width="1.2" />
<line x1="418.95" y1="597.07" x2="428.45" y2="597.07" stroke="#000" stroke-width="1.2" />
<rect x="440.95" y="647.89" width="10.30" height="30.31" fill="#fff" stroke="#000" stroke-width="1.3"/>
<rect x="451.90" y="577.32" width="13.40" height="100.88" fill="#000"/>
<line x1="446.10" y1="645.11" x2="446.10" y2="647.24" stroke="#000" stroke-width="1.2" />
<line x1="441.85" y1="645.11" x2="450.35" y2="645.11" stroke="#000" stroke-width="1.2" />
<line x1="458.60" y1="574.65" x2="458.60" y2="577.32" stroke="#000" stroke-width="1.2" />
<line x1="453.85" y1="574.65" x2="463.35" y2="574.65" stroke="#000" stroke-width="1.2" />
<rect x="476.35" y="648.43" width="10.30" height="29.77" fill="#fff" stroke="#000" stroke-width="1.3"/>
<rect x="487.30" y="601.34" width="13.40" height="76.86" fill="#000"/>
<line x1="481.50" y1="637.10" x2="481.50" y2="647.78" stroke="#000" stroke-width="1.2" />
<line x1="477.25" y1="637.10" x2="485.75" y2="637.10" stroke="#000" stroke-width="1.2" />
<line x1="494.00" y1="598.67" x2="494.00" y2="601.34" stroke="#000" stroke-width="1.2" />
<line x1="489.25" y1="598.67" x2="498.75" y2="598.67" stroke="#000" stroke-width="1.2" />
<polyline points="339.50,582.00 339.50,575.00 354.50,575.00 354.50,582.00" fill="none" stroke="#000" stroke-width="1.3"/>
<text class="b" x="347.00" y="573.31" font-size="11.4" text-anchor="middle">**</text>
<polyline points="372.50,560.00 372.50,553.80 387.00,553.80 387.00,560.00" fill="none" stroke="#000" stroke-width="1.3"/>
<text class="b" x="379.75" y="553.11" font-size="11.0" text-anchor="middle">***</text>
<polyline points="408.50,588.40 408.50,581.00 423.50,581.00 423.50,588.40" fill="none" stroke="#000" stroke-width="1.3"/>
<text class="b" x="416.00" y="581.81" font-size="11.4" text-anchor="middle">**</text>
<polyline points="442.80,567.80 442.80,561.00 457.40,561.00 457.40,567.80" fill="none" stroke="#000" stroke-width="1.3"/>
<text class="b" x="450.10" y="561.11" font-size="11.0" text-anchor="middle">***</text>
<polyline points="477.50,591.00 477.50,584.00 493.00,584.00 493.00,591.00" fill="none" stroke="#000" stroke-width="1.3"/>
<text class="b" x="485.25" y="584.41" font-size="11.4" text-anchor="middle">**</text>
<polyline points="349.50,540.80 349.50,533.80 386.30,533.80 386.30,540.80" fill="none" stroke="#000" stroke-width="1.3"/>
<text class="b" x="368.00" y="534.81" font-size="11.4" text-anchor="middle">*</text>
<polyline points="384.50,525.00 384.50,519.00 420.80,519.00 420.80,525.00" fill="none" stroke="#000" stroke-width="1.3"/>
<text class="b" x="402.50" y="519.31" font-size="11.4" text-anchor="middle">*</text>
<polyline points="384.50,510.00 384.50,505.00 456.30,505.00 456.30,510.00" fill="none" stroke="#000" stroke-width="1.3"/>
<text class="b" x="413.75" y="500.20" font-size="8.6" textLength="12.50" lengthAdjust="spacingAndGlyphs">NS</text>
<polyline points="384.50,492.00 384.50,487.00 494.50,487.00 494.50,492.00" fill="none" stroke="#000" stroke-width="1.3"/>
<text class="b" x="439.20" y="487.11" font-size="11.4" text-anchor="middle">*</text>
<rect x="452.25" y="520.15" width="11.50" height="7.25" fill="#fff" stroke="#000" stroke-width="1.5"/>
<rect x="451.50" y="533.60" width="13.00" height="8.00" fill="#000"/>
<text class="r" x="471.30" y="527.40" font-size="9.4" textLength="31.20" lengthAdjust="spacingAndGlyphs">Isotype</text>
<text class="r" x="471.30" y="541.20" font-size="9.4" textLength="22.50" lengthAdjust="spacingAndGlyphs">B2G1</text>
<text class="b" x="292.20" y="662.80" font-size="9.6" textLength="86.40" lengthAdjust="spacingAndGlyphs" transform="rotate(-90 292.20 662.80)">Phagocytosis (MFI)</text>
<text class="b" x="303.80" y="695.60" font-size="7.4" textLength="20.00" lengthAdjust="spacingAndGlyphs">CRP:</text>
<text class="b" x="308.00" y="712.00" font-size="7.4" textLength="16.50" lengthAdjust="spacingAndGlyphs">DPI:</text>
<text class="b" x="285.00" y="727.30" font-size="7.4" textLength="40.00" lengthAdjust="spacingAndGlyphs">Rotenone:</text>
<rect x="347.70" y="691.00" width="4.60" height="1.80" fill="#000"/>
<text class="b" x="383.80" y="695.30" font-size="10.0" text-anchor="middle">+</text>
<text class="b" x="420.40" y="695.30" font-size="10.0" text-anchor="middle">+</text>
<text class="b" x="453.10" y="695.30" font-size="10.0" text-anchor="middle">+</text>
<text class="b" x="488.30" y="695.30" font-size="10.0" text-anchor="middle">+</text>
<rect x="347.70" y="706.90" width="4.60" height="1.80" fill="#000"/>
<rect x="381.50" y="706.90" width="4.60" height="1.80" fill="#000"/>
<text class="b" x="420.40" y="711.20" font-size="10.0" text-anchor="middle">+</text>
<rect x="450.80" y="706.90" width="4.60" height="1.80" fill="#000"/>
<text class="b" x="488.30" y="711.20" font-size="10.0" text-anchor="middle">+</text>
<rect x="347.70" y="722.40" width="4.60" height="1.80" fill="#000"/>
<rect x="381.50" y="722.40" width="4.60" height="1.80" fill="#000"/>
<rect x="418.10" y="722.40" width="4.60" height="1.80" fill="#000"/>
<text class="b" x="453.10" y="726.70" font-size="10.0" text-anchor="middle">+</text>
<text class="b" x="488.30" y="726.70" font-size="10.0" text-anchor="middle">+</text>
</svg>
</body></html>
